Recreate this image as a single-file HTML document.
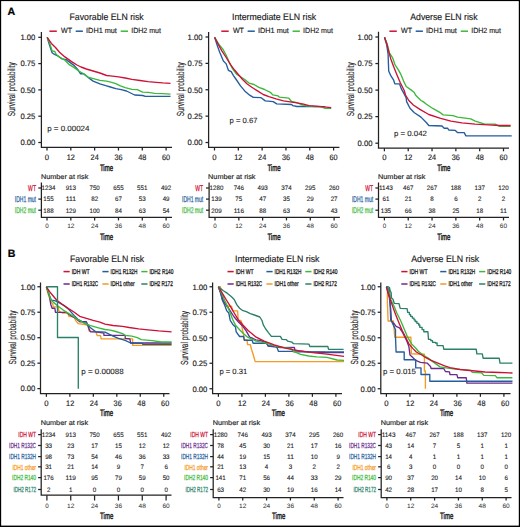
<!DOCTYPE html>
<html><head><meta charset="utf-8"><style>
html,body{margin:0;padding:0;background:#fff;}
svg{display:block;font-family:"Liberation Sans",sans-serif;text-rendering:geometricPrecision;}
</style></head><body>
<svg width="520" height="527" viewBox="0 0 520 527">
<rect x="0" y="0" width="520" height="527" fill="#fff"/>
<text x="7.50" y="15.20" font-size="10.6" fill="#000" stroke="#000" stroke-width="0.2" font-weight="bold">A</text>
<text x="7.70" y="257.00" font-size="10.6" fill="#000" stroke="#000" stroke-width="0.2" font-weight="bold">B</text>
<text x="106.60" y="20.45" font-size="9.4" fill="#1a1a1a" stroke="#1a1a1a" stroke-width="0.15" text-anchor="middle" textLength="74.2" lengthAdjust="spacingAndGlyphs">Favorable ELN risk</text>
<line x1="49.40" y1="31.20" x2="56.80" y2="31.20" stroke="#cc1236" stroke-width="1.5"/>
<text x="61.00" y="33.30" font-size="7.5" fill="#1a1a1a" stroke="#1a1a1a" stroke-width="0.15" textLength="11.1" lengthAdjust="spacingAndGlyphs">WT</text>
<line x1="75.70" y1="31.20" x2="82.90" y2="31.20" stroke="#235d9c" stroke-width="1.5"/>
<text x="86.10" y="33.30" font-size="7.5" fill="#1a1a1a" stroke="#1a1a1a" stroke-width="0.15" textLength="30.8" lengthAdjust="spacingAndGlyphs">IDH1 mut</text>
<line x1="120.70" y1="31.20" x2="128.00" y2="31.20" stroke="#3cb93c" stroke-width="1.5"/>
<text x="131.20" y="33.30" font-size="7.5" fill="#1a1a1a" stroke="#1a1a1a" stroke-width="0.15" textLength="29.8" lengthAdjust="spacingAndGlyphs">IDH2 mut</text>
<polyline points="41.40,32.00 41.40,147.40 172.00,147.40" fill="none" stroke="#222" stroke-width="1.25" stroke-linejoin="miter"/>
<line x1="38.30" y1="37.30" x2="41.40" y2="37.30" stroke="#222" stroke-width="1.25"/>
<text x="35.40" y="40.10" font-size="7.8" fill="#1a1a1a" stroke="#1a1a1a" stroke-width="0.15" text-anchor="end" textLength="15.0" lengthAdjust="spacingAndGlyphs">1.00</text>
<line x1="38.30" y1="63.60" x2="41.40" y2="63.60" stroke="#222" stroke-width="1.25"/>
<text x="35.40" y="66.40" font-size="7.8" fill="#1a1a1a" stroke="#1a1a1a" stroke-width="0.15" text-anchor="end" textLength="15.0" lengthAdjust="spacingAndGlyphs">0.75</text>
<line x1="38.30" y1="89.90" x2="41.40" y2="89.90" stroke="#222" stroke-width="1.25"/>
<text x="35.40" y="92.70" font-size="7.8" fill="#1a1a1a" stroke="#1a1a1a" stroke-width="0.15" text-anchor="end" textLength="15.0" lengthAdjust="spacingAndGlyphs">0.50</text>
<line x1="38.30" y1="116.20" x2="41.40" y2="116.20" stroke="#222" stroke-width="1.25"/>
<text x="35.40" y="119.00" font-size="7.8" fill="#1a1a1a" stroke="#1a1a1a" stroke-width="0.15" text-anchor="end" textLength="15.0" lengthAdjust="spacingAndGlyphs">0.25</text>
<line x1="38.30" y1="142.50" x2="41.40" y2="142.50" stroke="#222" stroke-width="1.25"/>
<text x="35.40" y="145.30" font-size="7.8" fill="#1a1a1a" stroke="#1a1a1a" stroke-width="0.15" text-anchor="end" textLength="15.0" lengthAdjust="spacingAndGlyphs">0.00</text>
<line x1="47.00" y1="147.40" x2="47.00" y2="150.50" stroke="#222" stroke-width="1.25"/>
<text x="47.00" y="159.70" font-size="7.9" fill="#1a1a1a" stroke="#1a1a1a" stroke-width="0.15" text-anchor="middle" textLength="4.3" lengthAdjust="spacingAndGlyphs">0</text>
<line x1="70.82" y1="147.40" x2="70.82" y2="150.50" stroke="#222" stroke-width="1.25"/>
<text x="70.82" y="159.70" font-size="7.9" fill="#1a1a1a" stroke="#1a1a1a" stroke-width="0.15" text-anchor="middle" textLength="8.1" lengthAdjust="spacingAndGlyphs">12</text>
<line x1="94.64" y1="147.40" x2="94.64" y2="150.50" stroke="#222" stroke-width="1.25"/>
<text x="94.64" y="159.70" font-size="7.9" fill="#1a1a1a" stroke="#1a1a1a" stroke-width="0.15" text-anchor="middle" textLength="8.1" lengthAdjust="spacingAndGlyphs">24</text>
<line x1="118.46" y1="147.40" x2="118.46" y2="150.50" stroke="#222" stroke-width="1.25"/>
<text x="118.46" y="159.70" font-size="7.9" fill="#1a1a1a" stroke="#1a1a1a" stroke-width="0.15" text-anchor="middle" textLength="8.1" lengthAdjust="spacingAndGlyphs">36</text>
<line x1="142.28" y1="147.40" x2="142.28" y2="150.50" stroke="#222" stroke-width="1.25"/>
<text x="142.28" y="159.70" font-size="7.9" fill="#1a1a1a" stroke="#1a1a1a" stroke-width="0.15" text-anchor="middle" textLength="8.1" lengthAdjust="spacingAndGlyphs">48</text>
<line x1="166.10" y1="147.40" x2="166.10" y2="150.50" stroke="#222" stroke-width="1.25"/>
<text x="166.10" y="159.70" font-size="7.9" fill="#1a1a1a" stroke="#1a1a1a" stroke-width="0.15" text-anchor="middle" textLength="8.1" lengthAdjust="spacingAndGlyphs">60</text>
<text x="106.50" y="170.80" font-size="9.2" fill="#1a1a1a" stroke="#1a1a1a" stroke-width="0.45" text-anchor="middle" textLength="13.2" lengthAdjust="spacingAndGlyphs">Time</text>
<text x="0.00" y="0.00" font-size="10.4" fill="#1a1a1a" stroke="#1a1a1a" stroke-width="0.12" text-anchor="middle" textLength="54" lengthAdjust="spacingAndGlyphs" transform="translate(14.60,89.20) rotate(-90)">Survival probability</text>
<text x="47.20" y="131.00" font-size="7.6" fill="#1a1a1a" stroke="#1a1a1a" stroke-width="0.1" textLength="42.2" lengthAdjust="spacingAndGlyphs">p = 0.00024</text>
<polyline points="47.20,37.30 49.40,44.80 52.10,52.80 54.10,54.20 58.20,56.20 62.20,58.90 66.20,59.60 68.90,61.60 74.30,65.60 78.30,70.30 80.40,73.70 83.70,73.70 87.80,77.10 93.10,81.10 99.90,83.80 106.60,85.80 110.40,87.00 115.80,88.60 121.20,89.70 126.50,91.00 130.60,93.00 134.60,95.00 142.70,95.50 145.40,96.40 170.50,96.40" fill="none" stroke="#235d9c" stroke-width="1.35" stroke-linejoin="round"/>
<polyline points="47.20,37.30 50.00,44.10 52.10,50.80 54.80,51.50 56.10,54.20 60.80,58.20 64.90,60.20 68.90,64.30 74.30,67.60 79.70,71.70 82.40,73.00 87.80,77.10 92.50,78.40 99.90,80.40 106.60,81.10 111.70,82.30 115.80,83.60 119.80,85.60 125.20,87.60 131.90,89.30 137.30,89.70 142.70,92.10 148.10,92.40 154.80,93.30 162.90,93.70 170.50,94.10" fill="none" stroke="#3cb93c" stroke-width="1.35" stroke-linejoin="round"/>
<polyline points="47.20,37.30 51.40,43.40 55.50,47.50 59.50,52.20 64.90,56.90 71.60,61.60 77.00,65.00 81.00,67.00 86.40,69.00 93.10,71.00 99.90,73.00 106.60,75.50 110.40,75.80 118.50,76.90 125.20,78.00 131.90,79.30 140.00,80.50 148.10,81.60 156.10,82.30 162.90,82.90 170.50,83.30" fill="none" stroke="#cc1236" stroke-width="1.35" stroke-linejoin="round"/>
<text x="40.90" y="178.50" font-size="6.9" fill="#1a1a1a" stroke="#1a1a1a" stroke-width="0.15" textLength="47.4" lengthAdjust="spacingAndGlyphs">Number at risk</text>
<polyline points="41.40,182.40 41.40,217.40 172.00,217.40" fill="none" stroke="#222" stroke-width="1.25" stroke-linejoin="miter"/>
<line x1="38.30" y1="188.00" x2="41.40" y2="188.00" stroke="#222" stroke-width="1.25"/>
<text x="36.00" y="190.70" font-size="8.4" fill="#cc1236" stroke="#cc1236" stroke-width="0.25" text-anchor="end" textLength="7.9" lengthAdjust="spacingAndGlyphs">WT</text>
<text x="48.50" y="190.30" font-size="6.4" fill="#1a1a1a" stroke="#1a1a1a" stroke-width="0.1" text-anchor="middle" textLength="13.8" lengthAdjust="spacingAndGlyphs">1234</text>
<text x="70.82" y="190.30" font-size="6.4" fill="#1a1a1a" stroke="#1a1a1a" stroke-width="0.1" text-anchor="middle" textLength="10.350000000000001" lengthAdjust="spacingAndGlyphs">913</text>
<text x="94.64" y="190.30" font-size="6.4" fill="#1a1a1a" stroke="#1a1a1a" stroke-width="0.1" text-anchor="middle" textLength="10.350000000000001" lengthAdjust="spacingAndGlyphs">750</text>
<text x="118.46" y="190.30" font-size="6.4" fill="#1a1a1a" stroke="#1a1a1a" stroke-width="0.1" text-anchor="middle" textLength="10.350000000000001" lengthAdjust="spacingAndGlyphs">655</text>
<text x="142.28" y="190.30" font-size="6.4" fill="#1a1a1a" stroke="#1a1a1a" stroke-width="0.1" text-anchor="middle" textLength="10.350000000000001" lengthAdjust="spacingAndGlyphs">551</text>
<text x="166.10" y="190.30" font-size="6.4" fill="#1a1a1a" stroke="#1a1a1a" stroke-width="0.1" text-anchor="middle" textLength="10.350000000000001" lengthAdjust="spacingAndGlyphs">492</text>
<line x1="38.30" y1="199.10" x2="41.40" y2="199.10" stroke="#222" stroke-width="1.25"/>
<text x="36.00" y="201.80" font-size="8.4" fill="#235d9c" stroke="#235d9c" stroke-width="0.25" text-anchor="end" textLength="21.2" lengthAdjust="spacingAndGlyphs">IDH1 mut</text>
<text x="48.50" y="201.40" font-size="6.4" fill="#1a1a1a" stroke="#1a1a1a" stroke-width="0.1" text-anchor="middle" textLength="10.350000000000001" lengthAdjust="spacingAndGlyphs">155</text>
<text x="70.82" y="201.40" font-size="6.4" fill="#1a1a1a" stroke="#1a1a1a" stroke-width="0.1" text-anchor="middle" textLength="10.350000000000001" lengthAdjust="spacingAndGlyphs">111</text>
<text x="94.64" y="201.40" font-size="6.4" fill="#1a1a1a" stroke="#1a1a1a" stroke-width="0.1" text-anchor="middle" textLength="6.9" lengthAdjust="spacingAndGlyphs">82</text>
<text x="118.46" y="201.40" font-size="6.4" fill="#1a1a1a" stroke="#1a1a1a" stroke-width="0.1" text-anchor="middle" textLength="6.9" lengthAdjust="spacingAndGlyphs">67</text>
<text x="142.28" y="201.40" font-size="6.4" fill="#1a1a1a" stroke="#1a1a1a" stroke-width="0.1" text-anchor="middle" textLength="6.9" lengthAdjust="spacingAndGlyphs">53</text>
<text x="166.10" y="201.40" font-size="6.4" fill="#1a1a1a" stroke="#1a1a1a" stroke-width="0.1" text-anchor="middle" textLength="6.9" lengthAdjust="spacingAndGlyphs">49</text>
<line x1="38.30" y1="210.20" x2="41.40" y2="210.20" stroke="#222" stroke-width="1.25"/>
<text x="36.00" y="212.90" font-size="8.4" fill="#3cb93c" stroke="#3cb93c" stroke-width="0.25" text-anchor="end" textLength="21.2" lengthAdjust="spacingAndGlyphs">IDH2 mut</text>
<text x="48.50" y="212.50" font-size="6.4" fill="#1a1a1a" stroke="#1a1a1a" stroke-width="0.1" text-anchor="middle" textLength="10.350000000000001" lengthAdjust="spacingAndGlyphs">188</text>
<text x="70.82" y="212.50" font-size="6.4" fill="#1a1a1a" stroke="#1a1a1a" stroke-width="0.1" text-anchor="middle" textLength="10.350000000000001" lengthAdjust="spacingAndGlyphs">129</text>
<text x="94.64" y="212.50" font-size="6.4" fill="#1a1a1a" stroke="#1a1a1a" stroke-width="0.1" text-anchor="middle" textLength="10.350000000000001" lengthAdjust="spacingAndGlyphs">100</text>
<text x="118.46" y="212.50" font-size="6.4" fill="#1a1a1a" stroke="#1a1a1a" stroke-width="0.1" text-anchor="middle" textLength="6.9" lengthAdjust="spacingAndGlyphs">84</text>
<text x="142.28" y="212.50" font-size="6.4" fill="#1a1a1a" stroke="#1a1a1a" stroke-width="0.1" text-anchor="middle" textLength="6.9" lengthAdjust="spacingAndGlyphs">63</text>
<text x="166.10" y="212.50" font-size="6.4" fill="#1a1a1a" stroke="#1a1a1a" stroke-width="0.1" text-anchor="middle" textLength="6.9" lengthAdjust="spacingAndGlyphs">54</text>
<line x1="47.00" y1="217.40" x2="47.00" y2="220.40" stroke="#222" stroke-width="1.25"/>
<text x="47.00" y="228.00" font-size="6.3" fill="#2a2a2a" stroke="#2a2a2a" stroke-width="0" text-anchor="middle" textLength="3.5" lengthAdjust="spacingAndGlyphs">0</text>
<line x1="70.82" y1="217.40" x2="70.82" y2="220.40" stroke="#222" stroke-width="1.25"/>
<text x="70.82" y="228.00" font-size="6.3" fill="#2a2a2a" stroke="#2a2a2a" stroke-width="0" text-anchor="middle" textLength="7.3" lengthAdjust="spacingAndGlyphs">12</text>
<line x1="94.64" y1="217.40" x2="94.64" y2="220.40" stroke="#222" stroke-width="1.25"/>
<text x="94.64" y="228.00" font-size="6.3" fill="#2a2a2a" stroke="#2a2a2a" stroke-width="0" text-anchor="middle" textLength="7.3" lengthAdjust="spacingAndGlyphs">24</text>
<line x1="118.46" y1="217.40" x2="118.46" y2="220.40" stroke="#222" stroke-width="1.25"/>
<text x="118.46" y="228.00" font-size="6.3" fill="#2a2a2a" stroke="#2a2a2a" stroke-width="0" text-anchor="middle" textLength="7.3" lengthAdjust="spacingAndGlyphs">36</text>
<line x1="142.28" y1="217.40" x2="142.28" y2="220.40" stroke="#222" stroke-width="1.25"/>
<text x="142.28" y="228.00" font-size="6.3" fill="#2a2a2a" stroke="#2a2a2a" stroke-width="0" text-anchor="middle" textLength="7.3" lengthAdjust="spacingAndGlyphs">48</text>
<line x1="166.10" y1="217.40" x2="166.10" y2="220.40" stroke="#222" stroke-width="1.25"/>
<text x="166.10" y="228.00" font-size="6.3" fill="#2a2a2a" stroke="#2a2a2a" stroke-width="0" text-anchor="middle" textLength="7.3" lengthAdjust="spacingAndGlyphs">60</text>
<text x="106.50" y="239.80" font-size="9.2" fill="#1a1a1a" stroke="#1a1a1a" stroke-width="0.45" text-anchor="middle" textLength="13.2" lengthAdjust="spacingAndGlyphs">Time</text>
<text x="274.10" y="20.45" font-size="9.4" fill="#1a1a1a" stroke="#1a1a1a" stroke-width="0.15" text-anchor="middle" textLength="84.2" lengthAdjust="spacingAndGlyphs">Intermediate ELN risk</text>
<line x1="221.30" y1="31.20" x2="228.70" y2="31.20" stroke="#cc1236" stroke-width="1.5"/>
<text x="232.90" y="33.30" font-size="7.5" fill="#1a1a1a" stroke="#1a1a1a" stroke-width="0.15" textLength="11.1" lengthAdjust="spacingAndGlyphs">WT</text>
<line x1="247.60" y1="31.20" x2="254.80" y2="31.20" stroke="#235d9c" stroke-width="1.5"/>
<text x="258.00" y="33.30" font-size="7.5" fill="#1a1a1a" stroke="#1a1a1a" stroke-width="0.15" textLength="30.8" lengthAdjust="spacingAndGlyphs">IDH1 mut</text>
<line x1="292.60" y1="31.20" x2="299.90" y2="31.20" stroke="#3cb93c" stroke-width="1.5"/>
<text x="303.10" y="33.30" font-size="7.5" fill="#1a1a1a" stroke="#1a1a1a" stroke-width="0.15" textLength="29.8" lengthAdjust="spacingAndGlyphs">IDH2 mut</text>
<polyline points="208.60,32.00 208.60,147.40 339.40,147.40" fill="none" stroke="#222" stroke-width="1.25" stroke-linejoin="miter"/>
<line x1="205.50" y1="37.00" x2="208.60" y2="37.00" stroke="#222" stroke-width="1.25"/>
<text x="202.60" y="39.80" font-size="7.8" fill="#1a1a1a" stroke="#1a1a1a" stroke-width="0.15" text-anchor="end" textLength="15.0" lengthAdjust="spacingAndGlyphs">1.00</text>
<line x1="205.50" y1="63.38" x2="208.60" y2="63.38" stroke="#222" stroke-width="1.25"/>
<text x="202.60" y="66.18" font-size="7.8" fill="#1a1a1a" stroke="#1a1a1a" stroke-width="0.15" text-anchor="end" textLength="15.0" lengthAdjust="spacingAndGlyphs">0.75</text>
<line x1="205.50" y1="89.76" x2="208.60" y2="89.76" stroke="#222" stroke-width="1.25"/>
<text x="202.60" y="92.56" font-size="7.8" fill="#1a1a1a" stroke="#1a1a1a" stroke-width="0.15" text-anchor="end" textLength="15.0" lengthAdjust="spacingAndGlyphs">0.50</text>
<line x1="205.50" y1="116.14" x2="208.60" y2="116.14" stroke="#222" stroke-width="1.25"/>
<text x="202.60" y="118.94" font-size="7.8" fill="#1a1a1a" stroke="#1a1a1a" stroke-width="0.15" text-anchor="end" textLength="15.0" lengthAdjust="spacingAndGlyphs">0.25</text>
<line x1="205.50" y1="142.52" x2="208.60" y2="142.52" stroke="#222" stroke-width="1.25"/>
<text x="202.60" y="145.32" font-size="7.8" fill="#1a1a1a" stroke="#1a1a1a" stroke-width="0.15" text-anchor="end" textLength="15.0" lengthAdjust="spacingAndGlyphs">0.00</text>
<line x1="214.50" y1="147.40" x2="214.50" y2="150.50" stroke="#222" stroke-width="1.25"/>
<text x="214.50" y="159.70" font-size="7.9" fill="#1a1a1a" stroke="#1a1a1a" stroke-width="0.15" text-anchor="middle" textLength="4.3" lengthAdjust="spacingAndGlyphs">0</text>
<line x1="238.32" y1="147.40" x2="238.32" y2="150.50" stroke="#222" stroke-width="1.25"/>
<text x="238.32" y="159.70" font-size="7.9" fill="#1a1a1a" stroke="#1a1a1a" stroke-width="0.15" text-anchor="middle" textLength="8.1" lengthAdjust="spacingAndGlyphs">12</text>
<line x1="262.14" y1="147.40" x2="262.14" y2="150.50" stroke="#222" stroke-width="1.25"/>
<text x="262.14" y="159.70" font-size="7.9" fill="#1a1a1a" stroke="#1a1a1a" stroke-width="0.15" text-anchor="middle" textLength="8.1" lengthAdjust="spacingAndGlyphs">24</text>
<line x1="285.96" y1="147.40" x2="285.96" y2="150.50" stroke="#222" stroke-width="1.25"/>
<text x="285.96" y="159.70" font-size="7.9" fill="#1a1a1a" stroke="#1a1a1a" stroke-width="0.15" text-anchor="middle" textLength="8.1" lengthAdjust="spacingAndGlyphs">36</text>
<line x1="309.78" y1="147.40" x2="309.78" y2="150.50" stroke="#222" stroke-width="1.25"/>
<text x="309.78" y="159.70" font-size="7.9" fill="#1a1a1a" stroke="#1a1a1a" stroke-width="0.15" text-anchor="middle" textLength="8.1" lengthAdjust="spacingAndGlyphs">48</text>
<line x1="333.60" y1="147.40" x2="333.60" y2="150.50" stroke="#222" stroke-width="1.25"/>
<text x="333.60" y="159.70" font-size="7.9" fill="#1a1a1a" stroke="#1a1a1a" stroke-width="0.15" text-anchor="middle" textLength="8.1" lengthAdjust="spacingAndGlyphs">60</text>
<text x="274.00" y="170.80" font-size="9.2" fill="#1a1a1a" stroke="#1a1a1a" stroke-width="0.45" text-anchor="middle" textLength="13.2" lengthAdjust="spacingAndGlyphs">Time</text>
<text x="0.00" y="0.00" font-size="10.4" fill="#1a1a1a" stroke="#1a1a1a" stroke-width="0.12" text-anchor="middle" textLength="54" lengthAdjust="spacingAndGlyphs" transform="translate(183.70,89.20) rotate(-90)">Survival probability</text>
<text x="229.60" y="123.20" font-size="7.6" fill="#1a1a1a" stroke="#1a1a1a" stroke-width="0.1" textLength="27.9" lengthAdjust="spacingAndGlyphs">p = 0.67</text>
<polyline points="214.60,37.30 217.70,46.80 219.80,52.50 223.40,61.00 226.20,63.90 228.40,70.30 231.20,71.70 233.30,75.30 236.20,79.50 240.50,85.90 244.70,90.90 249.70,95.20 253.30,97.30 261.10,97.70 265.30,100.90 273.20,101.60 276.70,103.90 291.50,104.50 292.90,105.60 296.90,106.50 309.00,106.50 325.20,106.60" fill="none" stroke="#235d9c" stroke-width="1.35" stroke-linejoin="round"/>
<polyline points="214.60,37.30 219.10,44.70 222.70,48.90 226.20,55.30 229.10,61.70 232.60,68.90 236.90,74.50 240.50,76.70 244.70,79.50 249.00,83.10 254.00,84.50 258.90,87.30 264.60,89.50 270.30,92.30 272.70,94.80 278.10,95.90 279.40,97.20 288.80,98.20 291.50,101.50 296.90,102.60 301.00,104.50 306.30,105.80 314.40,106.60 321.10,106.90 325.20,108.30 331.20,108.30" fill="none" stroke="#3cb93c" stroke-width="1.35" stroke-linejoin="round"/>
<polyline points="214.60,37.30 218.40,44.70 222.00,51.10 226.20,57.50 230.50,64.60 234.80,70.30 238.30,74.50 242.60,79.50 246.90,83.80 251.80,87.30 257.50,90.90 263.20,94.50 268.90,96.60 276.00,98.90 283.50,100.90 290.20,101.90 296.90,102.90 303.60,104.20 309.00,105.60 315.80,106.20 323.80,106.90 331.20,107.60" fill="none" stroke="#cc1236" stroke-width="1.35" stroke-linejoin="round"/>
<text x="208.10" y="178.50" font-size="6.9" fill="#1a1a1a" stroke="#1a1a1a" stroke-width="0.15" textLength="47.4" lengthAdjust="spacingAndGlyphs">Number at risk</text>
<polyline points="209.10,182.40 209.10,217.40 339.90,217.40" fill="none" stroke="#222" stroke-width="1.25" stroke-linejoin="miter"/>
<line x1="206.00" y1="188.00" x2="209.10" y2="188.00" stroke="#222" stroke-width="1.25"/>
<text x="203.20" y="190.70" font-size="8.4" fill="#cc1236" stroke="#cc1236" stroke-width="0.25" text-anchor="end" textLength="7.9" lengthAdjust="spacingAndGlyphs">WT</text>
<text x="216.50" y="190.30" font-size="6.4" fill="#1a1a1a" stroke="#1a1a1a" stroke-width="0.1" text-anchor="middle" textLength="13.8" lengthAdjust="spacingAndGlyphs">1280</text>
<text x="238.82" y="190.30" font-size="6.4" fill="#1a1a1a" stroke="#1a1a1a" stroke-width="0.1" text-anchor="middle" textLength="10.350000000000001" lengthAdjust="spacingAndGlyphs">746</text>
<text x="262.64" y="190.30" font-size="6.4" fill="#1a1a1a" stroke="#1a1a1a" stroke-width="0.1" text-anchor="middle" textLength="10.350000000000001" lengthAdjust="spacingAndGlyphs">493</text>
<text x="286.46" y="190.30" font-size="6.4" fill="#1a1a1a" stroke="#1a1a1a" stroke-width="0.1" text-anchor="middle" textLength="10.350000000000001" lengthAdjust="spacingAndGlyphs">374</text>
<text x="310.28" y="190.30" font-size="6.4" fill="#1a1a1a" stroke="#1a1a1a" stroke-width="0.1" text-anchor="middle" textLength="10.350000000000001" lengthAdjust="spacingAndGlyphs">295</text>
<text x="334.10" y="190.30" font-size="6.4" fill="#1a1a1a" stroke="#1a1a1a" stroke-width="0.1" text-anchor="middle" textLength="10.350000000000001" lengthAdjust="spacingAndGlyphs">260</text>
<line x1="206.00" y1="199.10" x2="209.10" y2="199.10" stroke="#222" stroke-width="1.25"/>
<text x="203.20" y="201.80" font-size="8.4" fill="#235d9c" stroke="#235d9c" stroke-width="0.25" text-anchor="end" textLength="21.2" lengthAdjust="spacingAndGlyphs">IDH1 mut</text>
<text x="216.50" y="201.40" font-size="6.4" fill="#1a1a1a" stroke="#1a1a1a" stroke-width="0.1" text-anchor="middle" textLength="10.350000000000001" lengthAdjust="spacingAndGlyphs">139</text>
<text x="238.82" y="201.40" font-size="6.4" fill="#1a1a1a" stroke="#1a1a1a" stroke-width="0.1" text-anchor="middle" textLength="6.9" lengthAdjust="spacingAndGlyphs">75</text>
<text x="262.64" y="201.40" font-size="6.4" fill="#1a1a1a" stroke="#1a1a1a" stroke-width="0.1" text-anchor="middle" textLength="6.9" lengthAdjust="spacingAndGlyphs">47</text>
<text x="286.46" y="201.40" font-size="6.4" fill="#1a1a1a" stroke="#1a1a1a" stroke-width="0.1" text-anchor="middle" textLength="6.9" lengthAdjust="spacingAndGlyphs">35</text>
<text x="310.28" y="201.40" font-size="6.4" fill="#1a1a1a" stroke="#1a1a1a" stroke-width="0.1" text-anchor="middle" textLength="6.9" lengthAdjust="spacingAndGlyphs">29</text>
<text x="334.10" y="201.40" font-size="6.4" fill="#1a1a1a" stroke="#1a1a1a" stroke-width="0.1" text-anchor="middle" textLength="6.9" lengthAdjust="spacingAndGlyphs">27</text>
<line x1="206.00" y1="210.20" x2="209.10" y2="210.20" stroke="#222" stroke-width="1.25"/>
<text x="203.20" y="212.90" font-size="8.4" fill="#3cb93c" stroke="#3cb93c" stroke-width="0.25" text-anchor="end" textLength="21.2" lengthAdjust="spacingAndGlyphs">IDH2 mut</text>
<text x="216.50" y="212.50" font-size="6.4" fill="#1a1a1a" stroke="#1a1a1a" stroke-width="0.1" text-anchor="middle" textLength="10.350000000000001" lengthAdjust="spacingAndGlyphs">209</text>
<text x="238.82" y="212.50" font-size="6.4" fill="#1a1a1a" stroke="#1a1a1a" stroke-width="0.1" text-anchor="middle" textLength="10.350000000000001" lengthAdjust="spacingAndGlyphs">116</text>
<text x="262.64" y="212.50" font-size="6.4" fill="#1a1a1a" stroke="#1a1a1a" stroke-width="0.1" text-anchor="middle" textLength="6.9" lengthAdjust="spacingAndGlyphs">88</text>
<text x="286.46" y="212.50" font-size="6.4" fill="#1a1a1a" stroke="#1a1a1a" stroke-width="0.1" text-anchor="middle" textLength="6.9" lengthAdjust="spacingAndGlyphs">63</text>
<text x="310.28" y="212.50" font-size="6.4" fill="#1a1a1a" stroke="#1a1a1a" stroke-width="0.1" text-anchor="middle" textLength="6.9" lengthAdjust="spacingAndGlyphs">49</text>
<text x="334.10" y="212.50" font-size="6.4" fill="#1a1a1a" stroke="#1a1a1a" stroke-width="0.1" text-anchor="middle" textLength="6.9" lengthAdjust="spacingAndGlyphs">43</text>
<line x1="215.00" y1="217.40" x2="215.00" y2="220.40" stroke="#222" stroke-width="1.25"/>
<text x="215.00" y="228.00" font-size="6.3" fill="#2a2a2a" stroke="#2a2a2a" stroke-width="0" text-anchor="middle" textLength="3.5" lengthAdjust="spacingAndGlyphs">0</text>
<line x1="238.82" y1="217.40" x2="238.82" y2="220.40" stroke="#222" stroke-width="1.25"/>
<text x="238.82" y="228.00" font-size="6.3" fill="#2a2a2a" stroke="#2a2a2a" stroke-width="0" text-anchor="middle" textLength="7.3" lengthAdjust="spacingAndGlyphs">12</text>
<line x1="262.64" y1="217.40" x2="262.64" y2="220.40" stroke="#222" stroke-width="1.25"/>
<text x="262.64" y="228.00" font-size="6.3" fill="#2a2a2a" stroke="#2a2a2a" stroke-width="0" text-anchor="middle" textLength="7.3" lengthAdjust="spacingAndGlyphs">24</text>
<line x1="286.46" y1="217.40" x2="286.46" y2="220.40" stroke="#222" stroke-width="1.25"/>
<text x="286.46" y="228.00" font-size="6.3" fill="#2a2a2a" stroke="#2a2a2a" stroke-width="0" text-anchor="middle" textLength="7.3" lengthAdjust="spacingAndGlyphs">36</text>
<line x1="310.28" y1="217.40" x2="310.28" y2="220.40" stroke="#222" stroke-width="1.25"/>
<text x="310.28" y="228.00" font-size="6.3" fill="#2a2a2a" stroke="#2a2a2a" stroke-width="0" text-anchor="middle" textLength="7.3" lengthAdjust="spacingAndGlyphs">48</text>
<line x1="334.10" y1="217.40" x2="334.10" y2="220.40" stroke="#222" stroke-width="1.25"/>
<text x="334.10" y="228.00" font-size="6.3" fill="#2a2a2a" stroke="#2a2a2a" stroke-width="0" text-anchor="middle" textLength="7.3" lengthAdjust="spacingAndGlyphs">60</text>
<text x="274.00" y="239.80" font-size="9.2" fill="#1a1a1a" stroke="#1a1a1a" stroke-width="0.45" text-anchor="middle" textLength="13.2" lengthAdjust="spacingAndGlyphs">Time</text>
<text x="443.90" y="20.45" font-size="9.4" fill="#1a1a1a" stroke="#1a1a1a" stroke-width="0.15" text-anchor="middle" textLength="67.3" lengthAdjust="spacingAndGlyphs">Adverse ELN risk</text>
<line x1="389.40" y1="31.20" x2="396.80" y2="31.20" stroke="#cc1236" stroke-width="1.5"/>
<text x="401.00" y="33.30" font-size="7.5" fill="#1a1a1a" stroke="#1a1a1a" stroke-width="0.15" textLength="11.1" lengthAdjust="spacingAndGlyphs">WT</text>
<line x1="415.70" y1="31.20" x2="422.90" y2="31.20" stroke="#235d9c" stroke-width="1.5"/>
<text x="426.10" y="33.30" font-size="7.5" fill="#1a1a1a" stroke="#1a1a1a" stroke-width="0.15" textLength="30.8" lengthAdjust="spacingAndGlyphs">IDH1 mut</text>
<line x1="460.70" y1="31.20" x2="468.00" y2="31.20" stroke="#3cb93c" stroke-width="1.5"/>
<text x="471.20" y="33.30" font-size="7.5" fill="#1a1a1a" stroke="#1a1a1a" stroke-width="0.15" textLength="29.8" lengthAdjust="spacingAndGlyphs">IDH2 mut</text>
<polyline points="378.50,31.80 378.50,148.20 509.00,148.20" fill="none" stroke="#222" stroke-width="1.25" stroke-linejoin="miter"/>
<line x1="375.40" y1="37.00" x2="378.50" y2="37.00" stroke="#222" stroke-width="1.25"/>
<text x="372.50" y="39.80" font-size="7.8" fill="#1a1a1a" stroke="#1a1a1a" stroke-width="0.15" text-anchor="end" textLength="15.0" lengthAdjust="spacingAndGlyphs">1.00</text>
<line x1="375.40" y1="63.55" x2="378.50" y2="63.55" stroke="#222" stroke-width="1.25"/>
<text x="372.50" y="66.35" font-size="7.8" fill="#1a1a1a" stroke="#1a1a1a" stroke-width="0.15" text-anchor="end" textLength="15.0" lengthAdjust="spacingAndGlyphs">0.75</text>
<line x1="375.40" y1="90.10" x2="378.50" y2="90.10" stroke="#222" stroke-width="1.25"/>
<text x="372.50" y="92.90" font-size="7.8" fill="#1a1a1a" stroke="#1a1a1a" stroke-width="0.15" text-anchor="end" textLength="15.0" lengthAdjust="spacingAndGlyphs">0.50</text>
<line x1="375.40" y1="116.65" x2="378.50" y2="116.65" stroke="#222" stroke-width="1.25"/>
<text x="372.50" y="119.45" font-size="7.8" fill="#1a1a1a" stroke="#1a1a1a" stroke-width="0.15" text-anchor="end" textLength="15.0" lengthAdjust="spacingAndGlyphs">0.25</text>
<line x1="375.40" y1="143.20" x2="378.50" y2="143.20" stroke="#222" stroke-width="1.25"/>
<text x="372.50" y="146.00" font-size="7.8" fill="#1a1a1a" stroke="#1a1a1a" stroke-width="0.15" text-anchor="end" textLength="15.0" lengthAdjust="spacingAndGlyphs">0.00</text>
<line x1="384.40" y1="148.20" x2="384.40" y2="151.30" stroke="#222" stroke-width="1.25"/>
<text x="384.40" y="160.30" font-size="7.9" fill="#1a1a1a" stroke="#1a1a1a" stroke-width="0.15" text-anchor="middle" textLength="4.3" lengthAdjust="spacingAndGlyphs">0</text>
<line x1="408.22" y1="148.20" x2="408.22" y2="151.30" stroke="#222" stroke-width="1.25"/>
<text x="408.22" y="160.30" font-size="7.9" fill="#1a1a1a" stroke="#1a1a1a" stroke-width="0.15" text-anchor="middle" textLength="8.1" lengthAdjust="spacingAndGlyphs">12</text>
<line x1="432.04" y1="148.20" x2="432.04" y2="151.30" stroke="#222" stroke-width="1.25"/>
<text x="432.04" y="160.30" font-size="7.9" fill="#1a1a1a" stroke="#1a1a1a" stroke-width="0.15" text-anchor="middle" textLength="8.1" lengthAdjust="spacingAndGlyphs">24</text>
<line x1="455.86" y1="148.20" x2="455.86" y2="151.30" stroke="#222" stroke-width="1.25"/>
<text x="455.86" y="160.30" font-size="7.9" fill="#1a1a1a" stroke="#1a1a1a" stroke-width="0.15" text-anchor="middle" textLength="8.1" lengthAdjust="spacingAndGlyphs">36</text>
<line x1="479.68" y1="148.20" x2="479.68" y2="151.30" stroke="#222" stroke-width="1.25"/>
<text x="479.68" y="160.30" font-size="7.9" fill="#1a1a1a" stroke="#1a1a1a" stroke-width="0.15" text-anchor="middle" textLength="8.1" lengthAdjust="spacingAndGlyphs">48</text>
<line x1="503.50" y1="148.20" x2="503.50" y2="151.30" stroke="#222" stroke-width="1.25"/>
<text x="503.50" y="160.30" font-size="7.9" fill="#1a1a1a" stroke="#1a1a1a" stroke-width="0.15" text-anchor="middle" textLength="8.1" lengthAdjust="spacingAndGlyphs">60</text>
<text x="443.80" y="171.30" font-size="9.2" fill="#1a1a1a" stroke="#1a1a1a" stroke-width="0.45" text-anchor="middle" textLength="13.2" lengthAdjust="spacingAndGlyphs">Time</text>
<text x="0.00" y="0.00" font-size="10.4" fill="#1a1a1a" stroke="#1a1a1a" stroke-width="0.12" text-anchor="middle" textLength="54" lengthAdjust="spacingAndGlyphs" transform="translate(353.90,89.20) rotate(-90)">Survival probability</text>
<text x="393.90" y="136.20" font-size="7.6" fill="#1a1a1a" stroke="#1a1a1a" stroke-width="0.1" textLength="33.0" lengthAdjust="spacingAndGlyphs">p = 0.042</text>
<polyline points="384.50,37.30 386.70,44.80 388.10,54.20 388.70,71.00 390.80,75.70 393.50,79.80 394.80,83.80 399.50,83.80 401.50,89.20 404.20,93.90 406.20,97.90 406.60,101.60 410.00,108.30 414.40,112.70 421.00,117.10 426.50,122.70 428.80,125.50 442.00,126.00 444.20,128.20 447.60,128.20 448.70,130.00 455.30,130.40 457.50,132.60 464.20,132.60 465.90,135.90 511.70,135.90" fill="none" stroke="#235d9c" stroke-width="1.35" stroke-linejoin="round"/>
<polyline points="384.50,37.30 387.40,44.80 389.40,52.80 392.80,58.20 394.80,64.30 398.20,69.70 400.90,74.40 403.60,81.10 406.20,86.50 411.00,89.90 414.30,92.50 415.50,95.00 417.70,97.30 421.00,100.50 423.10,101.60 426.50,104.30 433.20,108.70 439.80,112.30 443.10,114.90 453.10,115.60 457.50,117.10 470.80,118.90 475.20,121.10 484.10,123.80 495.10,124.20 499.60,126.40 510.60,126.40" fill="none" stroke="#3cb93c" stroke-width="1.35" stroke-linejoin="round"/>
<polyline points="384.50,37.30 386.70,43.40 388.70,51.50 390.80,58.90 393.50,66.30 396.80,74.40 400.20,82.50 404.20,90.50 405.50,95.00 408.80,100.50 413.30,105.00 419.90,109.40 428.80,114.50 439.80,118.20 450.90,121.10 461.90,122.90 475.20,124.20 488.50,124.90 499.60,125.50 510.60,125.50" fill="none" stroke="#cc1236" stroke-width="1.35" stroke-linejoin="round"/>
<text x="378.00" y="178.50" font-size="6.9" fill="#1a1a1a" stroke="#1a1a1a" stroke-width="0.15" textLength="47.4" lengthAdjust="spacingAndGlyphs">Number at risk</text>
<polyline points="378.50,182.40 378.50,217.40 509.00,217.40" fill="none" stroke="#222" stroke-width="1.25" stroke-linejoin="miter"/>
<line x1="375.40" y1="188.00" x2="378.50" y2="188.00" stroke="#222" stroke-width="1.25"/>
<text x="373.10" y="190.70" font-size="8.4" fill="#cc1236" stroke="#cc1236" stroke-width="0.25" text-anchor="end" textLength="7.9" lengthAdjust="spacingAndGlyphs">WT</text>
<text x="385.90" y="190.30" font-size="6.4" fill="#1a1a1a" stroke="#1a1a1a" stroke-width="0.1" text-anchor="middle" textLength="13.8" lengthAdjust="spacingAndGlyphs">1143</text>
<text x="408.22" y="190.30" font-size="6.4" fill="#1a1a1a" stroke="#1a1a1a" stroke-width="0.1" text-anchor="middle" textLength="10.350000000000001" lengthAdjust="spacingAndGlyphs">467</text>
<text x="432.04" y="190.30" font-size="6.4" fill="#1a1a1a" stroke="#1a1a1a" stroke-width="0.1" text-anchor="middle" textLength="10.350000000000001" lengthAdjust="spacingAndGlyphs">267</text>
<text x="455.86" y="190.30" font-size="6.4" fill="#1a1a1a" stroke="#1a1a1a" stroke-width="0.1" text-anchor="middle" textLength="10.350000000000001" lengthAdjust="spacingAndGlyphs">188</text>
<text x="479.68" y="190.30" font-size="6.4" fill="#1a1a1a" stroke="#1a1a1a" stroke-width="0.1" text-anchor="middle" textLength="10.350000000000001" lengthAdjust="spacingAndGlyphs">137</text>
<text x="503.50" y="190.30" font-size="6.4" fill="#1a1a1a" stroke="#1a1a1a" stroke-width="0.1" text-anchor="middle" textLength="10.350000000000001" lengthAdjust="spacingAndGlyphs">120</text>
<line x1="375.40" y1="199.10" x2="378.50" y2="199.10" stroke="#222" stroke-width="1.25"/>
<text x="373.10" y="201.80" font-size="8.4" fill="#235d9c" stroke="#235d9c" stroke-width="0.25" text-anchor="end" textLength="21.2" lengthAdjust="spacingAndGlyphs">IDH1 mut</text>
<text x="385.90" y="201.40" font-size="6.4" fill="#1a1a1a" stroke="#1a1a1a" stroke-width="0.1" text-anchor="middle" textLength="6.9" lengthAdjust="spacingAndGlyphs">61</text>
<text x="408.22" y="201.40" font-size="6.4" fill="#1a1a1a" stroke="#1a1a1a" stroke-width="0.1" text-anchor="middle" textLength="6.9" lengthAdjust="spacingAndGlyphs">21</text>
<text x="432.04" y="201.40" font-size="6.4" fill="#1a1a1a" stroke="#1a1a1a" stroke-width="0.1" text-anchor="middle" textLength="3.45" lengthAdjust="spacingAndGlyphs">8</text>
<text x="455.86" y="201.40" font-size="6.4" fill="#1a1a1a" stroke="#1a1a1a" stroke-width="0.1" text-anchor="middle" textLength="3.45" lengthAdjust="spacingAndGlyphs">6</text>
<text x="479.68" y="201.40" font-size="6.4" fill="#1a1a1a" stroke="#1a1a1a" stroke-width="0.1" text-anchor="middle" textLength="3.45" lengthAdjust="spacingAndGlyphs">2</text>
<text x="503.50" y="201.40" font-size="6.4" fill="#1a1a1a" stroke="#1a1a1a" stroke-width="0.1" text-anchor="middle" textLength="3.45" lengthAdjust="spacingAndGlyphs">2</text>
<line x1="375.40" y1="210.20" x2="378.50" y2="210.20" stroke="#222" stroke-width="1.25"/>
<text x="373.10" y="212.90" font-size="8.4" fill="#3cb93c" stroke="#3cb93c" stroke-width="0.25" text-anchor="end" textLength="21.2" lengthAdjust="spacingAndGlyphs">IDH2 mut</text>
<text x="385.90" y="212.50" font-size="6.4" fill="#1a1a1a" stroke="#1a1a1a" stroke-width="0.1" text-anchor="middle" textLength="10.350000000000001" lengthAdjust="spacingAndGlyphs">135</text>
<text x="408.22" y="212.50" font-size="6.4" fill="#1a1a1a" stroke="#1a1a1a" stroke-width="0.1" text-anchor="middle" textLength="6.9" lengthAdjust="spacingAndGlyphs">66</text>
<text x="432.04" y="212.50" font-size="6.4" fill="#1a1a1a" stroke="#1a1a1a" stroke-width="0.1" text-anchor="middle" textLength="6.9" lengthAdjust="spacingAndGlyphs">38</text>
<text x="455.86" y="212.50" font-size="6.4" fill="#1a1a1a" stroke="#1a1a1a" stroke-width="0.1" text-anchor="middle" textLength="6.9" lengthAdjust="spacingAndGlyphs">25</text>
<text x="479.68" y="212.50" font-size="6.4" fill="#1a1a1a" stroke="#1a1a1a" stroke-width="0.1" text-anchor="middle" textLength="6.9" lengthAdjust="spacingAndGlyphs">18</text>
<text x="503.50" y="212.50" font-size="6.4" fill="#1a1a1a" stroke="#1a1a1a" stroke-width="0.1" text-anchor="middle" textLength="6.9" lengthAdjust="spacingAndGlyphs">11</text>
<line x1="384.40" y1="217.40" x2="384.40" y2="220.40" stroke="#222" stroke-width="1.25"/>
<text x="384.40" y="228.00" font-size="6.3" fill="#2a2a2a" stroke="#2a2a2a" stroke-width="0" text-anchor="middle" textLength="3.5" lengthAdjust="spacingAndGlyphs">0</text>
<line x1="408.22" y1="217.40" x2="408.22" y2="220.40" stroke="#222" stroke-width="1.25"/>
<text x="408.22" y="228.00" font-size="6.3" fill="#2a2a2a" stroke="#2a2a2a" stroke-width="0" text-anchor="middle" textLength="7.3" lengthAdjust="spacingAndGlyphs">12</text>
<line x1="432.04" y1="217.40" x2="432.04" y2="220.40" stroke="#222" stroke-width="1.25"/>
<text x="432.04" y="228.00" font-size="6.3" fill="#2a2a2a" stroke="#2a2a2a" stroke-width="0" text-anchor="middle" textLength="7.3" lengthAdjust="spacingAndGlyphs">24</text>
<line x1="455.86" y1="217.40" x2="455.86" y2="220.40" stroke="#222" stroke-width="1.25"/>
<text x="455.86" y="228.00" font-size="6.3" fill="#2a2a2a" stroke="#2a2a2a" stroke-width="0" text-anchor="middle" textLength="7.3" lengthAdjust="spacingAndGlyphs">36</text>
<line x1="479.68" y1="217.40" x2="479.68" y2="220.40" stroke="#222" stroke-width="1.25"/>
<text x="479.68" y="228.00" font-size="6.3" fill="#2a2a2a" stroke="#2a2a2a" stroke-width="0" text-anchor="middle" textLength="7.3" lengthAdjust="spacingAndGlyphs">48</text>
<line x1="503.50" y1="217.40" x2="503.50" y2="220.40" stroke="#222" stroke-width="1.25"/>
<text x="503.50" y="228.00" font-size="6.3" fill="#2a2a2a" stroke="#2a2a2a" stroke-width="0" text-anchor="middle" textLength="7.3" lengthAdjust="spacingAndGlyphs">60</text>
<text x="443.80" y="239.80" font-size="9.2" fill="#1a1a1a" stroke="#1a1a1a" stroke-width="0.45" text-anchor="middle" textLength="13.2" lengthAdjust="spacingAndGlyphs">Time</text>
<text x="107.10" y="262.20" font-size="9.4" fill="#1a1a1a" stroke="#1a1a1a" stroke-width="0.15" text-anchor="middle" textLength="74.2" lengthAdjust="spacingAndGlyphs">Favorable ELN risk</text>
<line x1="63.50" y1="271.60" x2="69.70" y2="271.60" stroke="#cc1236" stroke-width="1.5"/>
<text x="71.70" y="274.00" font-size="7.0" fill="#1a1a1a" stroke="#1a1a1a" stroke-width="0.3" textLength="18" lengthAdjust="spacingAndGlyphs">IDH WT</text>
<line x1="102.40" y1="271.60" x2="108.60" y2="271.60" stroke="#235d9c" stroke-width="1.5"/>
<text x="110.60" y="274.00" font-size="7.0" fill="#1a1a1a" stroke="#1a1a1a" stroke-width="0.3" textLength="26.8" lengthAdjust="spacingAndGlyphs">IDH1 R132H</text>
<line x1="141.30" y1="271.60" x2="147.50" y2="271.60" stroke="#3cb93c" stroke-width="1.5"/>
<text x="149.50" y="274.00" font-size="7.0" fill="#1a1a1a" stroke="#1a1a1a" stroke-width="0.3" textLength="24" lengthAdjust="spacingAndGlyphs">IDH2 R140</text>
<line x1="63.50" y1="284.00" x2="69.70" y2="284.00" stroke="#6a2b8c" stroke-width="1.5"/>
<text x="71.70" y="286.40" font-size="7.0" fill="#1a1a1a" stroke="#1a1a1a" stroke-width="0.3" textLength="26.5" lengthAdjust="spacingAndGlyphs">IDH1 R132C</text>
<line x1="102.40" y1="284.00" x2="108.60" y2="284.00" stroke="#f59a22" stroke-width="1.5"/>
<text x="110.60" y="286.40" font-size="7.0" fill="#1a1a1a" stroke="#1a1a1a" stroke-width="0.3" textLength="24" lengthAdjust="spacingAndGlyphs">IDH1 other</text>
<line x1="141.30" y1="284.00" x2="147.50" y2="284.00" stroke="#2a8068" stroke-width="1.5"/>
<text x="149.50" y="286.40" font-size="7.0" fill="#1a1a1a" stroke="#1a1a1a" stroke-width="0.3" textLength="23.3" lengthAdjust="spacingAndGlyphs">IDH2 R172</text>
<polyline points="40.50,282.50 40.50,393.70 169.50,393.70" fill="none" stroke="#222" stroke-width="1.25" stroke-linejoin="miter"/>
<line x1="37.40" y1="286.75" x2="40.50" y2="286.75" stroke="#222" stroke-width="1.25"/>
<text x="35.40" y="289.55" font-size="7.8" fill="#1a1a1a" stroke="#1a1a1a" stroke-width="0.15" text-anchor="end" textLength="15.0" lengthAdjust="spacingAndGlyphs">1.00</text>
<line x1="37.40" y1="312.22" x2="40.50" y2="312.22" stroke="#222" stroke-width="1.25"/>
<text x="35.40" y="315.02" font-size="7.8" fill="#1a1a1a" stroke="#1a1a1a" stroke-width="0.15" text-anchor="end" textLength="15.0" lengthAdjust="spacingAndGlyphs">0.75</text>
<line x1="37.40" y1="337.69" x2="40.50" y2="337.69" stroke="#222" stroke-width="1.25"/>
<text x="35.40" y="340.49" font-size="7.8" fill="#1a1a1a" stroke="#1a1a1a" stroke-width="0.15" text-anchor="end" textLength="15.0" lengthAdjust="spacingAndGlyphs">0.50</text>
<line x1="37.40" y1="363.16" x2="40.50" y2="363.16" stroke="#222" stroke-width="1.25"/>
<text x="35.40" y="365.96" font-size="7.8" fill="#1a1a1a" stroke="#1a1a1a" stroke-width="0.15" text-anchor="end" textLength="15.0" lengthAdjust="spacingAndGlyphs">0.25</text>
<line x1="37.40" y1="388.63" x2="40.50" y2="388.63" stroke="#222" stroke-width="1.25"/>
<text x="35.40" y="391.43" font-size="7.8" fill="#1a1a1a" stroke="#1a1a1a" stroke-width="0.15" text-anchor="end" textLength="15.0" lengthAdjust="spacingAndGlyphs">0.00</text>
<line x1="46.40" y1="393.70" x2="46.40" y2="396.80" stroke="#222" stroke-width="1.25"/>
<text x="46.40" y="405.60" font-size="7.9" fill="#1a1a1a" stroke="#1a1a1a" stroke-width="0.15" text-anchor="middle" textLength="4.3" lengthAdjust="spacingAndGlyphs">0</text>
<line x1="69.87" y1="393.70" x2="69.87" y2="396.80" stroke="#222" stroke-width="1.25"/>
<text x="70.15" y="405.60" font-size="7.9" fill="#1a1a1a" stroke="#1a1a1a" stroke-width="0.15" text-anchor="middle" textLength="8.1" lengthAdjust="spacingAndGlyphs">12</text>
<line x1="93.34" y1="393.70" x2="93.34" y2="396.80" stroke="#222" stroke-width="1.25"/>
<text x="93.90" y="405.60" font-size="7.9" fill="#1a1a1a" stroke="#1a1a1a" stroke-width="0.15" text-anchor="middle" textLength="8.1" lengthAdjust="spacingAndGlyphs">24</text>
<line x1="116.81" y1="393.70" x2="116.81" y2="396.80" stroke="#222" stroke-width="1.25"/>
<text x="117.65" y="405.60" font-size="7.9" fill="#1a1a1a" stroke="#1a1a1a" stroke-width="0.15" text-anchor="middle" textLength="8.1" lengthAdjust="spacingAndGlyphs">36</text>
<line x1="140.28" y1="393.70" x2="140.28" y2="396.80" stroke="#222" stroke-width="1.25"/>
<text x="141.40" y="405.60" font-size="7.9" fill="#1a1a1a" stroke="#1a1a1a" stroke-width="0.15" text-anchor="middle" textLength="8.1" lengthAdjust="spacingAndGlyphs">48</text>
<line x1="163.75" y1="393.70" x2="163.75" y2="396.80" stroke="#222" stroke-width="1.25"/>
<text x="165.15" y="405.60" font-size="7.9" fill="#1a1a1a" stroke="#1a1a1a" stroke-width="0.15" text-anchor="middle" textLength="8.1" lengthAdjust="spacingAndGlyphs">60</text>
<text x="106.60" y="415.80" font-size="9.2" fill="#1a1a1a" stroke="#1a1a1a" stroke-width="0.45" text-anchor="middle" textLength="13.2" lengthAdjust="spacingAndGlyphs">Time</text>
<text x="0.00" y="0.00" font-size="10.4" fill="#1a1a1a" stroke="#1a1a1a" stroke-width="0.12" text-anchor="middle" textLength="54" lengthAdjust="spacingAndGlyphs" transform="translate(15.80,337.50) rotate(-90)">Survival probability</text>
<text x="81.30" y="373.70" font-size="7.6" fill="#1a1a1a" stroke="#1a1a1a" stroke-width="0.1" textLength="42.4" lengthAdjust="spacingAndGlyphs">p = 0.00088</text>
<polyline points="46.40,286.75 48.10,294.10 50.70,301.50 52.80,304.20 53.40,306.90 58.20,306.90 58.80,310.90 62.20,313.00 67.60,313.00 68.90,316.30 74.30,317.00 75.60,320.40 78.30,323.70 87.80,325.00 89.10,331.10 95.80,331.80 97.20,335.60 100.50,335.60 101.20,338.90 132.60,338.90 132.60,345.30 171.60,345.30" fill="none" stroke="#f59a22" stroke-width="1.35" stroke-linejoin="round"/>
<polyline points="46.40,286.75 49.40,295.50 50.70,304.20 52.10,308.20 54.80,308.20 55.50,312.30 66.20,312.30 68.90,314.30 75.60,318.30 79.70,321.70 86.40,321.70 87.80,325.00 89.10,329.10 90.50,331.80 95.80,331.80 103.90,333.10 103.90,335.30 125.20,335.30 125.20,338.30 129.90,338.90 130.60,343.00 171.60,343.00" fill="none" stroke="#6a2b8c" stroke-width="1.35" stroke-linejoin="round"/>
<polyline points="46.40,286.75 49.40,295.50 51.40,300.20 55.50,300.80 59.50,302.90 64.90,306.20 68.90,309.60 74.30,315.60 78.30,319.70 85.10,323.00 90.50,327.80 95.80,331.80 101.20,331.80 105.00,332.20 109.00,334.20 113.10,336.20 118.50,338.30 125.20,340.30 130.60,343.00 142.70,343.40 142.70,344.30 171.60,344.30" fill="none" stroke="#235d9c" stroke-width="1.35" stroke-linejoin="round"/>
<polyline points="46.40,286.75 48.70,293.40 50.70,299.50 54.10,302.90 58.20,306.20 63.50,310.30 70.30,314.30 77.00,319.00 83.70,323.00 90.50,325.70 98.50,327.80 105.00,329.50 110.40,330.20 115.80,331.50 122.50,333.60 125.20,335.30 131.90,336.20 137.30,337.60 141.30,339.60 152.10,340.70 161.50,342.00 171.60,342.00" fill="none" stroke="#3cb93c" stroke-width="1.35" stroke-linejoin="round"/>
<polyline points="46.40,286.75 49.40,291.40 52.80,295.50 56.80,300.20 62.20,304.20 68.90,308.90 74.30,312.30 79.70,316.30 86.40,318.30 93.10,320.40 99.90,322.10 105.00,324.10 113.10,325.50 122.50,326.40 129.20,327.50 138.60,328.80 148.10,329.90 158.80,330.90 171.60,331.80" fill="none" stroke="#cc1236" stroke-width="1.35" stroke-linejoin="round"/>
<polyline points="46.40,286.75 57.50,286.75 57.50,337.50 78.30,337.50 78.30,388.70" fill="none" stroke="#2a8068" stroke-width="1.35" stroke-linejoin="round"/>
<text x="40.70" y="424.80" font-size="6.9" fill="#1a1a1a" stroke="#1a1a1a" stroke-width="0.15" textLength="47.4" lengthAdjust="spacingAndGlyphs">Number at risk</text>
<polyline points="41.20,429.20 41.20,495.20 171.50,495.20" fill="none" stroke="#222" stroke-width="1.25" stroke-linejoin="miter"/>
<line x1="38.10" y1="434.60" x2="41.20" y2="434.60" stroke="#222" stroke-width="1.25"/>
<text x="36.00" y="437.30" font-size="7.4" fill="#cc1236" stroke="#cc1236" stroke-width="0.25" text-anchor="end" textLength="17.7" lengthAdjust="spacingAndGlyphs">IDH WT</text>
<text x="48.60" y="436.90" font-size="6.4" fill="#1a1a1a" stroke="#1a1a1a" stroke-width="0.1" text-anchor="middle" textLength="13.8" lengthAdjust="spacingAndGlyphs">1234</text>
<text x="70.74" y="436.90" font-size="6.4" fill="#1a1a1a" stroke="#1a1a1a" stroke-width="0.1" text-anchor="middle" textLength="10.350000000000001" lengthAdjust="spacingAndGlyphs">913</text>
<text x="94.58" y="436.90" font-size="6.4" fill="#1a1a1a" stroke="#1a1a1a" stroke-width="0.1" text-anchor="middle" textLength="10.350000000000001" lengthAdjust="spacingAndGlyphs">750</text>
<text x="118.42" y="436.90" font-size="6.4" fill="#1a1a1a" stroke="#1a1a1a" stroke-width="0.1" text-anchor="middle" textLength="10.350000000000001" lengthAdjust="spacingAndGlyphs">655</text>
<text x="142.26" y="436.90" font-size="6.4" fill="#1a1a1a" stroke="#1a1a1a" stroke-width="0.1" text-anchor="middle" textLength="10.350000000000001" lengthAdjust="spacingAndGlyphs">551</text>
<text x="166.10" y="436.90" font-size="6.4" fill="#1a1a1a" stroke="#1a1a1a" stroke-width="0.1" text-anchor="middle" textLength="10.350000000000001" lengthAdjust="spacingAndGlyphs">492</text>
<line x1="38.10" y1="445.50" x2="41.20" y2="445.50" stroke="#222" stroke-width="1.25"/>
<text x="36.00" y="448.20" font-size="7.4" fill="#6a2b8c" stroke="#6a2b8c" stroke-width="0.25" text-anchor="end" textLength="26.9" lengthAdjust="spacingAndGlyphs">IDH1 R132C</text>
<text x="48.60" y="447.80" font-size="6.4" fill="#1a1a1a" stroke="#1a1a1a" stroke-width="0.1" text-anchor="middle" textLength="6.9" lengthAdjust="spacingAndGlyphs">33</text>
<text x="70.74" y="447.80" font-size="6.4" fill="#1a1a1a" stroke="#1a1a1a" stroke-width="0.1" text-anchor="middle" textLength="6.9" lengthAdjust="spacingAndGlyphs">23</text>
<text x="94.58" y="447.80" font-size="6.4" fill="#1a1a1a" stroke="#1a1a1a" stroke-width="0.1" text-anchor="middle" textLength="6.9" lengthAdjust="spacingAndGlyphs">17</text>
<text x="118.42" y="447.80" font-size="6.4" fill="#1a1a1a" stroke="#1a1a1a" stroke-width="0.1" text-anchor="middle" textLength="6.9" lengthAdjust="spacingAndGlyphs">15</text>
<text x="142.26" y="447.80" font-size="6.4" fill="#1a1a1a" stroke="#1a1a1a" stroke-width="0.1" text-anchor="middle" textLength="6.9" lengthAdjust="spacingAndGlyphs">12</text>
<text x="166.10" y="447.80" font-size="6.4" fill="#1a1a1a" stroke="#1a1a1a" stroke-width="0.1" text-anchor="middle" textLength="6.9" lengthAdjust="spacingAndGlyphs">12</text>
<line x1="38.10" y1="456.60" x2="41.20" y2="456.60" stroke="#222" stroke-width="1.25"/>
<text x="36.00" y="459.30" font-size="7.4" fill="#235d9c" stroke="#235d9c" stroke-width="0.25" text-anchor="end" textLength="26.9" lengthAdjust="spacingAndGlyphs">IDH1 R132H</text>
<text x="48.60" y="458.90" font-size="6.4" fill="#1a1a1a" stroke="#1a1a1a" stroke-width="0.1" text-anchor="middle" textLength="6.9" lengthAdjust="spacingAndGlyphs">98</text>
<text x="70.74" y="458.90" font-size="6.4" fill="#1a1a1a" stroke="#1a1a1a" stroke-width="0.1" text-anchor="middle" textLength="6.9" lengthAdjust="spacingAndGlyphs">73</text>
<text x="94.58" y="458.90" font-size="6.4" fill="#1a1a1a" stroke="#1a1a1a" stroke-width="0.1" text-anchor="middle" textLength="6.9" lengthAdjust="spacingAndGlyphs">54</text>
<text x="118.42" y="458.90" font-size="6.4" fill="#1a1a1a" stroke="#1a1a1a" stroke-width="0.1" text-anchor="middle" textLength="6.9" lengthAdjust="spacingAndGlyphs">46</text>
<text x="142.26" y="458.90" font-size="6.4" fill="#1a1a1a" stroke="#1a1a1a" stroke-width="0.1" text-anchor="middle" textLength="6.9" lengthAdjust="spacingAndGlyphs">36</text>
<text x="166.10" y="458.90" font-size="6.4" fill="#1a1a1a" stroke="#1a1a1a" stroke-width="0.1" text-anchor="middle" textLength="6.9" lengthAdjust="spacingAndGlyphs">33</text>
<line x1="38.10" y1="466.80" x2="41.20" y2="466.80" stroke="#222" stroke-width="1.25"/>
<text x="36.00" y="469.50" font-size="7.4" fill="#f59a22" stroke="#f59a22" stroke-width="0.25" text-anchor="end" textLength="23.6" lengthAdjust="spacingAndGlyphs">IDH1 other</text>
<text x="48.60" y="469.10" font-size="6.4" fill="#1a1a1a" stroke="#1a1a1a" stroke-width="0.1" text-anchor="middle" textLength="6.9" lengthAdjust="spacingAndGlyphs">31</text>
<text x="70.74" y="469.10" font-size="6.4" fill="#1a1a1a" stroke="#1a1a1a" stroke-width="0.1" text-anchor="middle" textLength="6.9" lengthAdjust="spacingAndGlyphs">21</text>
<text x="94.58" y="469.10" font-size="6.4" fill="#1a1a1a" stroke="#1a1a1a" stroke-width="0.1" text-anchor="middle" textLength="6.9" lengthAdjust="spacingAndGlyphs">14</text>
<text x="118.42" y="469.10" font-size="6.4" fill="#1a1a1a" stroke="#1a1a1a" stroke-width="0.1" text-anchor="middle" textLength="3.45" lengthAdjust="spacingAndGlyphs">9</text>
<text x="142.26" y="469.10" font-size="6.4" fill="#1a1a1a" stroke="#1a1a1a" stroke-width="0.1" text-anchor="middle" textLength="3.45" lengthAdjust="spacingAndGlyphs">7</text>
<text x="166.10" y="469.10" font-size="6.4" fill="#1a1a1a" stroke="#1a1a1a" stroke-width="0.1" text-anchor="middle" textLength="3.45" lengthAdjust="spacingAndGlyphs">6</text>
<line x1="38.10" y1="477.60" x2="41.20" y2="477.60" stroke="#222" stroke-width="1.25"/>
<text x="36.00" y="480.30" font-size="7.4" fill="#3cb93c" stroke="#3cb93c" stroke-width="0.25" text-anchor="end" textLength="23.9" lengthAdjust="spacingAndGlyphs">IDH2 R140</text>
<text x="48.60" y="479.90" font-size="6.4" fill="#1a1a1a" stroke="#1a1a1a" stroke-width="0.1" text-anchor="middle" textLength="10.350000000000001" lengthAdjust="spacingAndGlyphs">176</text>
<text x="70.74" y="479.90" font-size="6.4" fill="#1a1a1a" stroke="#1a1a1a" stroke-width="0.1" text-anchor="middle" textLength="10.350000000000001" lengthAdjust="spacingAndGlyphs">119</text>
<text x="94.58" y="479.90" font-size="6.4" fill="#1a1a1a" stroke="#1a1a1a" stroke-width="0.1" text-anchor="middle" textLength="6.9" lengthAdjust="spacingAndGlyphs">95</text>
<text x="118.42" y="479.90" font-size="6.4" fill="#1a1a1a" stroke="#1a1a1a" stroke-width="0.1" text-anchor="middle" textLength="6.9" lengthAdjust="spacingAndGlyphs">79</text>
<text x="142.26" y="479.90" font-size="6.4" fill="#1a1a1a" stroke="#1a1a1a" stroke-width="0.1" text-anchor="middle" textLength="6.9" lengthAdjust="spacingAndGlyphs">59</text>
<text x="166.10" y="479.90" font-size="6.4" fill="#1a1a1a" stroke="#1a1a1a" stroke-width="0.1" text-anchor="middle" textLength="6.9" lengthAdjust="spacingAndGlyphs">50</text>
<line x1="38.10" y1="489.50" x2="41.20" y2="489.50" stroke="#222" stroke-width="1.25"/>
<text x="36.00" y="492.20" font-size="7.4" fill="#2a8068" stroke="#2a8068" stroke-width="0.25" text-anchor="end" textLength="22.6" lengthAdjust="spacingAndGlyphs">IDH2 R172</text>
<text x="48.60" y="491.80" font-size="6.4" fill="#1a1a1a" stroke="#1a1a1a" stroke-width="0.1" text-anchor="middle" textLength="3.45" lengthAdjust="spacingAndGlyphs">2</text>
<text x="70.74" y="491.80" font-size="6.4" fill="#1a1a1a" stroke="#1a1a1a" stroke-width="0.1" text-anchor="middle" textLength="3.45" lengthAdjust="spacingAndGlyphs">1</text>
<text x="94.58" y="491.80" font-size="6.4" fill="#1a1a1a" stroke="#1a1a1a" stroke-width="0.1" text-anchor="middle" textLength="3.45" lengthAdjust="spacingAndGlyphs">0</text>
<text x="118.42" y="491.80" font-size="6.4" fill="#1a1a1a" stroke="#1a1a1a" stroke-width="0.1" text-anchor="middle" textLength="3.45" lengthAdjust="spacingAndGlyphs">0</text>
<text x="142.26" y="491.80" font-size="6.4" fill="#1a1a1a" stroke="#1a1a1a" stroke-width="0.1" text-anchor="middle" textLength="3.45" lengthAdjust="spacingAndGlyphs">0</text>
<text x="166.10" y="491.80" font-size="6.4" fill="#1a1a1a" stroke="#1a1a1a" stroke-width="0.1" text-anchor="middle" textLength="3.45" lengthAdjust="spacingAndGlyphs">0</text>
<line x1="46.90" y1="495.20" x2="46.90" y2="500.50" stroke="#222" stroke-width="1.25"/>
<text x="46.90" y="508.30" font-size="6.3" fill="#2a2a2a" stroke="#2a2a2a" stroke-width="0" text-anchor="middle" textLength="3.5" lengthAdjust="spacingAndGlyphs">0</text>
<line x1="70.74" y1="495.20" x2="70.74" y2="500.50" stroke="#222" stroke-width="1.25"/>
<text x="70.74" y="508.30" font-size="6.3" fill="#2a2a2a" stroke="#2a2a2a" stroke-width="0" text-anchor="middle" textLength="7.3" lengthAdjust="spacingAndGlyphs">12</text>
<line x1="94.58" y1="495.20" x2="94.58" y2="500.50" stroke="#222" stroke-width="1.25"/>
<text x="94.58" y="508.30" font-size="6.3" fill="#2a2a2a" stroke="#2a2a2a" stroke-width="0" text-anchor="middle" textLength="7.3" lengthAdjust="spacingAndGlyphs">24</text>
<line x1="118.42" y1="495.20" x2="118.42" y2="500.50" stroke="#222" stroke-width="1.25"/>
<text x="118.42" y="508.30" font-size="6.3" fill="#2a2a2a" stroke="#2a2a2a" stroke-width="0" text-anchor="middle" textLength="7.3" lengthAdjust="spacingAndGlyphs">36</text>
<line x1="142.26" y1="495.20" x2="142.26" y2="500.50" stroke="#222" stroke-width="1.25"/>
<text x="142.26" y="508.30" font-size="6.3" fill="#2a2a2a" stroke="#2a2a2a" stroke-width="0" text-anchor="middle" textLength="7.3" lengthAdjust="spacingAndGlyphs">48</text>
<line x1="166.10" y1="495.20" x2="166.10" y2="500.50" stroke="#222" stroke-width="1.25"/>
<text x="166.10" y="508.30" font-size="6.3" fill="#2a2a2a" stroke="#2a2a2a" stroke-width="0" text-anchor="middle" textLength="7.3" lengthAdjust="spacingAndGlyphs">60</text>
<text x="106.70" y="519.10" font-size="9.2" fill="#1a1a1a" stroke="#1a1a1a" stroke-width="0.45" text-anchor="middle" textLength="13.2" lengthAdjust="spacingAndGlyphs">Time</text>
<text x="277.20" y="262.20" font-size="9.4" fill="#1a1a1a" stroke="#1a1a1a" stroke-width="0.15" text-anchor="middle" textLength="84.5" lengthAdjust="spacingAndGlyphs">Intermediate ELN risk</text>
<line x1="227.50" y1="271.60" x2="233.70" y2="271.60" stroke="#cc1236" stroke-width="1.5"/>
<text x="235.70" y="274.00" font-size="7.0" fill="#1a1a1a" stroke="#1a1a1a" stroke-width="0.3" textLength="18" lengthAdjust="spacingAndGlyphs">IDH WT</text>
<line x1="266.40" y1="271.60" x2="272.60" y2="271.60" stroke="#235d9c" stroke-width="1.5"/>
<text x="274.60" y="274.00" font-size="7.0" fill="#1a1a1a" stroke="#1a1a1a" stroke-width="0.3" textLength="26.8" lengthAdjust="spacingAndGlyphs">IDH1 R132H</text>
<line x1="305.30" y1="271.60" x2="311.50" y2="271.60" stroke="#3cb93c" stroke-width="1.5"/>
<text x="313.50" y="274.00" font-size="7.0" fill="#1a1a1a" stroke="#1a1a1a" stroke-width="0.3" textLength="24" lengthAdjust="spacingAndGlyphs">IDH2 R140</text>
<line x1="227.50" y1="284.00" x2="233.70" y2="284.00" stroke="#6a2b8c" stroke-width="1.5"/>
<text x="235.70" y="286.40" font-size="7.0" fill="#1a1a1a" stroke="#1a1a1a" stroke-width="0.3" textLength="26.5" lengthAdjust="spacingAndGlyphs">IDH1 R132C</text>
<line x1="266.40" y1="284.00" x2="272.60" y2="284.00" stroke="#f59a22" stroke-width="1.5"/>
<text x="274.60" y="286.40" font-size="7.0" fill="#1a1a1a" stroke="#1a1a1a" stroke-width="0.3" textLength="24" lengthAdjust="spacingAndGlyphs">IDH1 other</text>
<line x1="305.30" y1="284.00" x2="311.50" y2="284.00" stroke="#2a8068" stroke-width="1.5"/>
<text x="313.50" y="286.40" font-size="7.0" fill="#1a1a1a" stroke="#1a1a1a" stroke-width="0.3" textLength="23.3" lengthAdjust="spacingAndGlyphs">IDH2 R172</text>
<polyline points="212.60,282.50 212.60,393.70 342.00,393.70" fill="none" stroke="#222" stroke-width="1.25" stroke-linejoin="miter"/>
<line x1="209.50" y1="286.75" x2="212.60" y2="286.75" stroke="#222" stroke-width="1.25"/>
<text x="207.40" y="289.55" font-size="7.8" fill="#1a1a1a" stroke="#1a1a1a" stroke-width="0.15" text-anchor="end" textLength="15.0" lengthAdjust="spacingAndGlyphs">1.00</text>
<line x1="209.50" y1="312.25" x2="212.60" y2="312.25" stroke="#222" stroke-width="1.25"/>
<text x="207.40" y="315.05" font-size="7.8" fill="#1a1a1a" stroke="#1a1a1a" stroke-width="0.15" text-anchor="end" textLength="15.0" lengthAdjust="spacingAndGlyphs">0.75</text>
<line x1="209.50" y1="337.75" x2="212.60" y2="337.75" stroke="#222" stroke-width="1.25"/>
<text x="207.40" y="340.55" font-size="7.8" fill="#1a1a1a" stroke="#1a1a1a" stroke-width="0.15" text-anchor="end" textLength="15.0" lengthAdjust="spacingAndGlyphs">0.50</text>
<line x1="209.50" y1="363.25" x2="212.60" y2="363.25" stroke="#222" stroke-width="1.25"/>
<text x="207.40" y="366.05" font-size="7.8" fill="#1a1a1a" stroke="#1a1a1a" stroke-width="0.15" text-anchor="end" textLength="15.0" lengthAdjust="spacingAndGlyphs">0.25</text>
<line x1="209.50" y1="388.75" x2="212.60" y2="388.75" stroke="#222" stroke-width="1.25"/>
<text x="207.40" y="391.55" font-size="7.8" fill="#1a1a1a" stroke="#1a1a1a" stroke-width="0.15" text-anchor="end" textLength="15.0" lengthAdjust="spacingAndGlyphs">0.00</text>
<line x1="218.40" y1="393.70" x2="218.40" y2="396.80" stroke="#222" stroke-width="1.25"/>
<text x="218.40" y="405.60" font-size="7.9" fill="#1a1a1a" stroke="#1a1a1a" stroke-width="0.15" text-anchor="middle" textLength="4.3" lengthAdjust="spacingAndGlyphs">0</text>
<line x1="241.90" y1="393.70" x2="241.90" y2="396.80" stroke="#222" stroke-width="1.25"/>
<text x="242.15" y="405.60" font-size="7.9" fill="#1a1a1a" stroke="#1a1a1a" stroke-width="0.15" text-anchor="middle" textLength="8.1" lengthAdjust="spacingAndGlyphs">12</text>
<line x1="265.40" y1="393.70" x2="265.40" y2="396.80" stroke="#222" stroke-width="1.25"/>
<text x="265.90" y="405.60" font-size="7.9" fill="#1a1a1a" stroke="#1a1a1a" stroke-width="0.15" text-anchor="middle" textLength="8.1" lengthAdjust="spacingAndGlyphs">24</text>
<line x1="288.90" y1="393.70" x2="288.90" y2="396.80" stroke="#222" stroke-width="1.25"/>
<text x="289.65" y="405.60" font-size="7.9" fill="#1a1a1a" stroke="#1a1a1a" stroke-width="0.15" text-anchor="middle" textLength="8.1" lengthAdjust="spacingAndGlyphs">36</text>
<line x1="312.40" y1="393.70" x2="312.40" y2="396.80" stroke="#222" stroke-width="1.25"/>
<text x="313.40" y="405.60" font-size="7.9" fill="#1a1a1a" stroke="#1a1a1a" stroke-width="0.15" text-anchor="middle" textLength="8.1" lengthAdjust="spacingAndGlyphs">48</text>
<line x1="335.90" y1="393.70" x2="335.90" y2="396.80" stroke="#222" stroke-width="1.25"/>
<text x="337.15" y="405.60" font-size="7.9" fill="#1a1a1a" stroke="#1a1a1a" stroke-width="0.15" text-anchor="middle" textLength="8.1" lengthAdjust="spacingAndGlyphs">60</text>
<text x="278.30" y="415.80" font-size="9.2" fill="#1a1a1a" stroke="#1a1a1a" stroke-width="0.45" text-anchor="middle" textLength="13.2" lengthAdjust="spacingAndGlyphs">Time</text>
<text x="0.00" y="0.00" font-size="10.4" fill="#1a1a1a" stroke="#1a1a1a" stroke-width="0.12" text-anchor="middle" textLength="54" lengthAdjust="spacingAndGlyphs" transform="translate(187.60,338.00) rotate(-90)">Survival probability</text>
<text x="219.40" y="373.80" font-size="7.6" fill="#1a1a1a" stroke="#1a1a1a" stroke-width="0.1" textLength="27.9" lengthAdjust="spacingAndGlyphs">p = 0.31</text>
<polyline points="218.40,286.75 220.40,286.75 221.40,292.80 223.40,299.50 225.40,302.20 226.10,306.20 231.50,306.20 232.80,310.90 237.60,310.90 238.20,320.40 240.90,320.40 241.60,322.40 242.30,329.10 243.60,334.50 244.30,339.90 247.00,339.90 247.60,344.60 250.30,344.60 251.70,350.00 253.10,354.30 255.20,361.60 344.00,361.60" fill="none" stroke="#f59a22" stroke-width="1.35" stroke-linejoin="round"/>
<polyline points="218.40,286.75 221.40,295.50 223.40,301.50 226.80,305.60 230.20,310.90 234.20,317.00 238.20,321.70 242.30,325.70 246.30,331.10 249.70,337.20 253.00,338.50 255.70,339.90 260.00,340.40 266.50,342.90 268.20,346.10 276.30,347.00 281.20,347.60 294.30,347.50 295.10,350.20 299.20,351.00 309.00,351.90 325.40,352.50 344.00,352.70" fill="none" stroke="#6a2b8c" stroke-width="1.35" stroke-linejoin="round"/>
<polyline points="218.40,286.75 220.70,292.80 222.10,299.50 224.80,305.60 226.80,310.90 228.80,313.00 230.20,320.40 232.80,324.40 235.50,327.10 236.20,331.80 239.60,336.50 243.60,336.50 244.30,340.20 252.10,340.20 253.10,343.20 266.30,343.20 268.30,345.90 276.40,345.90 278.40,351.30 292.50,351.30 294.50,351.90 344.00,351.90" fill="none" stroke="#235d9c" stroke-width="1.35" stroke-linejoin="round"/>
<polyline points="218.40,286.75 222.10,294.10 224.80,300.80 227.50,306.20 230.20,313.00 232.80,319.70 235.50,325.10 239.60,329.80 243.60,333.80 247.60,337.20 256.20,341.20 266.30,343.20 276.40,346.30 290.50,348.30 293.50,351.30 300.60,354.30 308.70,356.00 316.80,356.80 326.90,357.40 337.00,360.00 344.00,360.40" fill="none" stroke="#3cb93c" stroke-width="1.35" stroke-linejoin="round"/>
<polyline points="218.40,286.75 222.10,292.80 226.10,299.50 230.20,306.20 234.20,313.00 238.20,319.70 243.60,325.70 248.10,330.50 256.20,337.20 264.20,341.20 274.30,344.80 284.40,347.80 294.50,350.10 304.60,351.70 314.70,352.90 324.80,353.90 344.00,356.40" fill="none" stroke="#cc1236" stroke-width="1.35" stroke-linejoin="round"/>
<polyline points="218.40,286.75 223.40,290.70 227.50,293.40 231.50,296.80 234.20,299.50 236.90,304.90 239.60,308.20 242.30,310.30 246.30,311.60 250.30,313.60 254.40,315.00 259.80,317.00 262.00,320.50 263.30,324.90 265.70,329.00 268.20,332.30 271.40,336.30 280.40,336.30 282.10,339.30 286.10,339.60 287.80,341.20 291.90,342.10 293.50,343.70 309.00,344.20 309.80,346.50 327.80,346.50 328.60,349.40 343.60,349.40" fill="none" stroke="#2a8068" stroke-width="1.35" stroke-linejoin="round"/>
<text x="212.70" y="424.80" font-size="6.9" fill="#1a1a1a" stroke="#1a1a1a" stroke-width="0.15" textLength="47.4" lengthAdjust="spacingAndGlyphs">Number at risk</text>
<polyline points="213.20,429.20 213.20,497.50 343.50,497.50" fill="none" stroke="#222" stroke-width="1.25" stroke-linejoin="miter"/>
<line x1="210.10" y1="434.60" x2="213.20" y2="434.60" stroke="#222" stroke-width="1.25"/>
<text x="208.00" y="437.30" font-size="7.4" fill="#cc1236" stroke="#cc1236" stroke-width="0.25" text-anchor="end" textLength="17.7" lengthAdjust="spacingAndGlyphs">IDH WT</text>
<text x="220.60" y="436.90" font-size="6.4" fill="#1a1a1a" stroke="#1a1a1a" stroke-width="0.1" text-anchor="middle" textLength="13.8" lengthAdjust="spacingAndGlyphs">1280</text>
<text x="242.74" y="436.90" font-size="6.4" fill="#1a1a1a" stroke="#1a1a1a" stroke-width="0.1" text-anchor="middle" textLength="10.350000000000001" lengthAdjust="spacingAndGlyphs">746</text>
<text x="266.58" y="436.90" font-size="6.4" fill="#1a1a1a" stroke="#1a1a1a" stroke-width="0.1" text-anchor="middle" textLength="10.350000000000001" lengthAdjust="spacingAndGlyphs">493</text>
<text x="290.42" y="436.90" font-size="6.4" fill="#1a1a1a" stroke="#1a1a1a" stroke-width="0.1" text-anchor="middle" textLength="10.350000000000001" lengthAdjust="spacingAndGlyphs">374</text>
<text x="314.26" y="436.90" font-size="6.4" fill="#1a1a1a" stroke="#1a1a1a" stroke-width="0.1" text-anchor="middle" textLength="10.350000000000001" lengthAdjust="spacingAndGlyphs">295</text>
<text x="338.10" y="436.90" font-size="6.4" fill="#1a1a1a" stroke="#1a1a1a" stroke-width="0.1" text-anchor="middle" textLength="10.350000000000001" lengthAdjust="spacingAndGlyphs">260</text>
<line x1="210.10" y1="445.50" x2="213.20" y2="445.50" stroke="#222" stroke-width="1.25"/>
<text x="208.00" y="448.20" font-size="7.4" fill="#6a2b8c" stroke="#6a2b8c" stroke-width="0.25" text-anchor="end" textLength="26.9" lengthAdjust="spacingAndGlyphs">IDH1 R132C</text>
<text x="220.60" y="447.80" font-size="6.4" fill="#1a1a1a" stroke="#1a1a1a" stroke-width="0.1" text-anchor="middle" textLength="6.9" lengthAdjust="spacingAndGlyphs">78</text>
<text x="242.74" y="447.80" font-size="6.4" fill="#1a1a1a" stroke="#1a1a1a" stroke-width="0.1" text-anchor="middle" textLength="6.9" lengthAdjust="spacingAndGlyphs">45</text>
<text x="266.58" y="447.80" font-size="6.4" fill="#1a1a1a" stroke="#1a1a1a" stroke-width="0.1" text-anchor="middle" textLength="6.9" lengthAdjust="spacingAndGlyphs">30</text>
<text x="290.42" y="447.80" font-size="6.4" fill="#1a1a1a" stroke="#1a1a1a" stroke-width="0.1" text-anchor="middle" textLength="6.9" lengthAdjust="spacingAndGlyphs">21</text>
<text x="314.26" y="447.80" font-size="6.4" fill="#1a1a1a" stroke="#1a1a1a" stroke-width="0.1" text-anchor="middle" textLength="6.9" lengthAdjust="spacingAndGlyphs">17</text>
<text x="338.10" y="447.80" font-size="6.4" fill="#1a1a1a" stroke="#1a1a1a" stroke-width="0.1" text-anchor="middle" textLength="6.9" lengthAdjust="spacingAndGlyphs">16</text>
<line x1="210.10" y1="456.60" x2="213.20" y2="456.60" stroke="#222" stroke-width="1.25"/>
<text x="208.00" y="459.30" font-size="7.4" fill="#235d9c" stroke="#235d9c" stroke-width="0.25" text-anchor="end" textLength="26.9" lengthAdjust="spacingAndGlyphs">IDH1 R132H</text>
<text x="220.60" y="458.90" font-size="6.4" fill="#1a1a1a" stroke="#1a1a1a" stroke-width="0.1" text-anchor="middle" textLength="6.9" lengthAdjust="spacingAndGlyphs">44</text>
<text x="242.74" y="458.90" font-size="6.4" fill="#1a1a1a" stroke="#1a1a1a" stroke-width="0.1" text-anchor="middle" textLength="6.9" lengthAdjust="spacingAndGlyphs">19</text>
<text x="266.58" y="458.90" font-size="6.4" fill="#1a1a1a" stroke="#1a1a1a" stroke-width="0.1" text-anchor="middle" textLength="6.9" lengthAdjust="spacingAndGlyphs">15</text>
<text x="290.42" y="458.90" font-size="6.4" fill="#1a1a1a" stroke="#1a1a1a" stroke-width="0.1" text-anchor="middle" textLength="6.9" lengthAdjust="spacingAndGlyphs">11</text>
<text x="314.26" y="458.90" font-size="6.4" fill="#1a1a1a" stroke="#1a1a1a" stroke-width="0.1" text-anchor="middle" textLength="6.9" lengthAdjust="spacingAndGlyphs">10</text>
<text x="338.10" y="458.90" font-size="6.4" fill="#1a1a1a" stroke="#1a1a1a" stroke-width="0.1" text-anchor="middle" textLength="3.45" lengthAdjust="spacingAndGlyphs">9</text>
<line x1="210.10" y1="466.80" x2="213.20" y2="466.80" stroke="#222" stroke-width="1.25"/>
<text x="208.00" y="469.50" font-size="7.4" fill="#f59a22" stroke="#f59a22" stroke-width="0.25" text-anchor="end" textLength="23.6" lengthAdjust="spacingAndGlyphs">IDH1 other</text>
<text x="220.60" y="469.10" font-size="6.4" fill="#1a1a1a" stroke="#1a1a1a" stroke-width="0.1" text-anchor="middle" textLength="6.9" lengthAdjust="spacingAndGlyphs">21</text>
<text x="242.74" y="469.10" font-size="6.4" fill="#1a1a1a" stroke="#1a1a1a" stroke-width="0.1" text-anchor="middle" textLength="6.9" lengthAdjust="spacingAndGlyphs">13</text>
<text x="266.58" y="469.10" font-size="6.4" fill="#1a1a1a" stroke="#1a1a1a" stroke-width="0.1" text-anchor="middle" textLength="3.45" lengthAdjust="spacingAndGlyphs">4</text>
<text x="290.42" y="469.10" font-size="6.4" fill="#1a1a1a" stroke="#1a1a1a" stroke-width="0.1" text-anchor="middle" textLength="3.45" lengthAdjust="spacingAndGlyphs">3</text>
<text x="314.26" y="469.10" font-size="6.4" fill="#1a1a1a" stroke="#1a1a1a" stroke-width="0.1" text-anchor="middle" textLength="3.45" lengthAdjust="spacingAndGlyphs">2</text>
<text x="338.10" y="469.10" font-size="6.4" fill="#1a1a1a" stroke="#1a1a1a" stroke-width="0.1" text-anchor="middle" textLength="3.45" lengthAdjust="spacingAndGlyphs">2</text>
<line x1="210.10" y1="477.60" x2="213.20" y2="477.60" stroke="#222" stroke-width="1.25"/>
<text x="208.00" y="480.30" font-size="7.4" fill="#3cb93c" stroke="#3cb93c" stroke-width="0.25" text-anchor="end" textLength="23.9" lengthAdjust="spacingAndGlyphs">IDH2 R140</text>
<text x="220.60" y="479.90" font-size="6.4" fill="#1a1a1a" stroke="#1a1a1a" stroke-width="0.1" text-anchor="middle" textLength="10.350000000000001" lengthAdjust="spacingAndGlyphs">141</text>
<text x="242.74" y="479.90" font-size="6.4" fill="#1a1a1a" stroke="#1a1a1a" stroke-width="0.1" text-anchor="middle" textLength="6.9" lengthAdjust="spacingAndGlyphs">71</text>
<text x="266.58" y="479.90" font-size="6.4" fill="#1a1a1a" stroke="#1a1a1a" stroke-width="0.1" text-anchor="middle" textLength="6.9" lengthAdjust="spacingAndGlyphs">56</text>
<text x="290.42" y="479.90" font-size="6.4" fill="#1a1a1a" stroke="#1a1a1a" stroke-width="0.1" text-anchor="middle" textLength="6.9" lengthAdjust="spacingAndGlyphs">44</text>
<text x="314.26" y="479.90" font-size="6.4" fill="#1a1a1a" stroke="#1a1a1a" stroke-width="0.1" text-anchor="middle" textLength="6.9" lengthAdjust="spacingAndGlyphs">33</text>
<text x="338.10" y="479.90" font-size="6.4" fill="#1a1a1a" stroke="#1a1a1a" stroke-width="0.1" text-anchor="middle" textLength="6.9" lengthAdjust="spacingAndGlyphs">29</text>
<line x1="210.10" y1="489.50" x2="213.20" y2="489.50" stroke="#222" stroke-width="1.25"/>
<text x="208.00" y="492.20" font-size="7.4" fill="#2a8068" stroke="#2a8068" stroke-width="0.25" text-anchor="end" textLength="22.6" lengthAdjust="spacingAndGlyphs">IDH2 R172</text>
<text x="220.60" y="491.80" font-size="6.4" fill="#1a1a1a" stroke="#1a1a1a" stroke-width="0.1" text-anchor="middle" textLength="6.9" lengthAdjust="spacingAndGlyphs">63</text>
<text x="242.74" y="491.80" font-size="6.4" fill="#1a1a1a" stroke="#1a1a1a" stroke-width="0.1" text-anchor="middle" textLength="6.9" lengthAdjust="spacingAndGlyphs">42</text>
<text x="266.58" y="491.80" font-size="6.4" fill="#1a1a1a" stroke="#1a1a1a" stroke-width="0.1" text-anchor="middle" textLength="6.9" lengthAdjust="spacingAndGlyphs">30</text>
<text x="290.42" y="491.80" font-size="6.4" fill="#1a1a1a" stroke="#1a1a1a" stroke-width="0.1" text-anchor="middle" textLength="6.9" lengthAdjust="spacingAndGlyphs">19</text>
<text x="314.26" y="491.80" font-size="6.4" fill="#1a1a1a" stroke="#1a1a1a" stroke-width="0.1" text-anchor="middle" textLength="6.9" lengthAdjust="spacingAndGlyphs">16</text>
<text x="338.10" y="491.80" font-size="6.4" fill="#1a1a1a" stroke="#1a1a1a" stroke-width="0.1" text-anchor="middle" textLength="6.9" lengthAdjust="spacingAndGlyphs">14</text>
<line x1="218.90" y1="497.50" x2="218.90" y2="500.50" stroke="#222" stroke-width="1.25"/>
<text x="218.90" y="508.30" font-size="6.3" fill="#2a2a2a" stroke="#2a2a2a" stroke-width="0" text-anchor="middle" textLength="3.5" lengthAdjust="spacingAndGlyphs">0</text>
<line x1="242.74" y1="497.50" x2="242.74" y2="500.50" stroke="#222" stroke-width="1.25"/>
<text x="242.74" y="508.30" font-size="6.3" fill="#2a2a2a" stroke="#2a2a2a" stroke-width="0" text-anchor="middle" textLength="7.3" lengthAdjust="spacingAndGlyphs">12</text>
<line x1="266.58" y1="497.50" x2="266.58" y2="500.50" stroke="#222" stroke-width="1.25"/>
<text x="266.58" y="508.30" font-size="6.3" fill="#2a2a2a" stroke="#2a2a2a" stroke-width="0" text-anchor="middle" textLength="7.3" lengthAdjust="spacingAndGlyphs">24</text>
<line x1="290.42" y1="497.50" x2="290.42" y2="500.50" stroke="#222" stroke-width="1.25"/>
<text x="290.42" y="508.30" font-size="6.3" fill="#2a2a2a" stroke="#2a2a2a" stroke-width="0" text-anchor="middle" textLength="7.3" lengthAdjust="spacingAndGlyphs">36</text>
<line x1="314.26" y1="497.50" x2="314.26" y2="500.50" stroke="#222" stroke-width="1.25"/>
<text x="314.26" y="508.30" font-size="6.3" fill="#2a2a2a" stroke="#2a2a2a" stroke-width="0" text-anchor="middle" textLength="7.3" lengthAdjust="spacingAndGlyphs">48</text>
<line x1="338.10" y1="497.50" x2="338.10" y2="500.50" stroke="#222" stroke-width="1.25"/>
<text x="338.10" y="508.30" font-size="6.3" fill="#2a2a2a" stroke="#2a2a2a" stroke-width="0" text-anchor="middle" textLength="7.3" lengthAdjust="spacingAndGlyphs">60</text>
<text x="278.70" y="519.10" font-size="9.2" fill="#1a1a1a" stroke="#1a1a1a" stroke-width="0.45" text-anchor="middle" textLength="13.2" lengthAdjust="spacingAndGlyphs">Time</text>
<text x="445.20" y="262.20" font-size="9.4" fill="#1a1a1a" stroke="#1a1a1a" stroke-width="0.15" text-anchor="middle" textLength="68" lengthAdjust="spacingAndGlyphs">Adverse ELN risk</text>
<line x1="401.30" y1="271.60" x2="407.50" y2="271.60" stroke="#cc1236" stroke-width="1.5"/>
<text x="409.50" y="274.00" font-size="7.0" fill="#1a1a1a" stroke="#1a1a1a" stroke-width="0.3" textLength="18" lengthAdjust="spacingAndGlyphs">IDH WT</text>
<line x1="440.20" y1="271.60" x2="446.40" y2="271.60" stroke="#235d9c" stroke-width="1.5"/>
<text x="448.40" y="274.00" font-size="7.0" fill="#1a1a1a" stroke="#1a1a1a" stroke-width="0.3" textLength="26.8" lengthAdjust="spacingAndGlyphs">IDH1 R132H</text>
<line x1="479.10" y1="271.60" x2="485.30" y2="271.60" stroke="#3cb93c" stroke-width="1.5"/>
<text x="487.30" y="274.00" font-size="7.0" fill="#1a1a1a" stroke="#1a1a1a" stroke-width="0.3" textLength="24" lengthAdjust="spacingAndGlyphs">IDH2 R140</text>
<line x1="401.30" y1="284.00" x2="407.50" y2="284.00" stroke="#6a2b8c" stroke-width="1.5"/>
<text x="409.50" y="286.40" font-size="7.0" fill="#1a1a1a" stroke="#1a1a1a" stroke-width="0.3" textLength="26.5" lengthAdjust="spacingAndGlyphs">IDH1 R132C</text>
<line x1="440.20" y1="284.00" x2="446.40" y2="284.00" stroke="#f59a22" stroke-width="1.5"/>
<text x="448.40" y="286.40" font-size="7.0" fill="#1a1a1a" stroke="#1a1a1a" stroke-width="0.3" textLength="24" lengthAdjust="spacingAndGlyphs">IDH1 other</text>
<line x1="479.10" y1="284.00" x2="485.30" y2="284.00" stroke="#2a8068" stroke-width="1.5"/>
<text x="487.30" y="286.40" font-size="7.0" fill="#1a1a1a" stroke="#1a1a1a" stroke-width="0.3" textLength="23.3" lengthAdjust="spacingAndGlyphs">IDH2 R172</text>
<polyline points="380.80,282.50 380.80,393.70 510.50,393.70" fill="none" stroke="#222" stroke-width="1.25" stroke-linejoin="miter"/>
<line x1="377.70" y1="286.75" x2="380.80" y2="286.75" stroke="#222" stroke-width="1.25"/>
<text x="375.60" y="289.55" font-size="7.8" fill="#1a1a1a" stroke="#1a1a1a" stroke-width="0.15" text-anchor="end" textLength="15.0" lengthAdjust="spacingAndGlyphs">1.00</text>
<line x1="377.70" y1="312.25" x2="380.80" y2="312.25" stroke="#222" stroke-width="1.25"/>
<text x="375.60" y="315.05" font-size="7.8" fill="#1a1a1a" stroke="#1a1a1a" stroke-width="0.15" text-anchor="end" textLength="15.0" lengthAdjust="spacingAndGlyphs">0.75</text>
<line x1="377.70" y1="337.75" x2="380.80" y2="337.75" stroke="#222" stroke-width="1.25"/>
<text x="375.60" y="340.55" font-size="7.8" fill="#1a1a1a" stroke="#1a1a1a" stroke-width="0.15" text-anchor="end" textLength="15.0" lengthAdjust="spacingAndGlyphs">0.50</text>
<line x1="377.70" y1="363.25" x2="380.80" y2="363.25" stroke="#222" stroke-width="1.25"/>
<text x="375.60" y="366.05" font-size="7.8" fill="#1a1a1a" stroke="#1a1a1a" stroke-width="0.15" text-anchor="end" textLength="15.0" lengthAdjust="spacingAndGlyphs">0.25</text>
<line x1="377.70" y1="388.75" x2="380.80" y2="388.75" stroke="#222" stroke-width="1.25"/>
<text x="375.60" y="391.55" font-size="7.8" fill="#1a1a1a" stroke="#1a1a1a" stroke-width="0.15" text-anchor="end" textLength="15.0" lengthAdjust="spacingAndGlyphs">0.00</text>
<line x1="386.40" y1="393.70" x2="386.40" y2="396.80" stroke="#222" stroke-width="1.25"/>
<text x="386.40" y="405.60" font-size="7.9" fill="#1a1a1a" stroke="#1a1a1a" stroke-width="0.15" text-anchor="middle" textLength="4.3" lengthAdjust="spacingAndGlyphs">0</text>
<line x1="409.90" y1="393.70" x2="409.90" y2="396.80" stroke="#222" stroke-width="1.25"/>
<text x="410.15" y="405.60" font-size="7.9" fill="#1a1a1a" stroke="#1a1a1a" stroke-width="0.15" text-anchor="middle" textLength="8.1" lengthAdjust="spacingAndGlyphs">12</text>
<line x1="433.40" y1="393.70" x2="433.40" y2="396.80" stroke="#222" stroke-width="1.25"/>
<text x="433.90" y="405.60" font-size="7.9" fill="#1a1a1a" stroke="#1a1a1a" stroke-width="0.15" text-anchor="middle" textLength="8.1" lengthAdjust="spacingAndGlyphs">24</text>
<line x1="456.90" y1="393.70" x2="456.90" y2="396.80" stroke="#222" stroke-width="1.25"/>
<text x="457.65" y="405.60" font-size="7.9" fill="#1a1a1a" stroke="#1a1a1a" stroke-width="0.15" text-anchor="middle" textLength="8.1" lengthAdjust="spacingAndGlyphs">36</text>
<line x1="480.40" y1="393.70" x2="480.40" y2="396.80" stroke="#222" stroke-width="1.25"/>
<text x="481.40" y="405.60" font-size="7.9" fill="#1a1a1a" stroke="#1a1a1a" stroke-width="0.15" text-anchor="middle" textLength="8.1" lengthAdjust="spacingAndGlyphs">48</text>
<line x1="503.90" y1="393.70" x2="503.90" y2="396.80" stroke="#222" stroke-width="1.25"/>
<text x="505.15" y="405.60" font-size="7.9" fill="#1a1a1a" stroke="#1a1a1a" stroke-width="0.15" text-anchor="middle" textLength="8.1" lengthAdjust="spacingAndGlyphs">60</text>
<text x="446.50" y="415.80" font-size="9.2" fill="#1a1a1a" stroke="#1a1a1a" stroke-width="0.45" text-anchor="middle" textLength="13.2" lengthAdjust="spacingAndGlyphs">Time</text>
<text x="0.00" y="0.00" font-size="10.4" fill="#1a1a1a" stroke="#1a1a1a" stroke-width="0.12" text-anchor="middle" textLength="54" lengthAdjust="spacingAndGlyphs" transform="translate(357.60,337.50) rotate(-90)">Survival probability</text>
<text x="383.00" y="373.60" font-size="7.6" fill="#1a1a1a" stroke="#1a1a1a" stroke-width="0.1" textLength="33.0" lengthAdjust="spacingAndGlyphs">p = 0.015</text>
<polyline points="386.40,286.75 387.40,286.75 387.40,302.20 388.10,321.00 393.40,321.00 394.80,337.20 410.90,337.20 411.30,353.75 424.40,354.25 424.40,371.00 425.40,371.00 425.40,388.70" fill="none" stroke="#f59a22" stroke-width="1.35" stroke-linejoin="round"/>
<polyline points="386.40,286.75 389.40,298.20 390.70,309.00 391.40,321.00 394.10,323.70 396.10,326.40 399.50,327.80 402.20,331.80 404.90,337.20 406.90,341.20 408.90,346.60 410.00,355.00 412.30,357.00 415.70,360.40 420.40,362.40 427.10,363.10 430.50,366.40 431.10,368.50 443.80,368.50 445.40,371.50 449.50,371.80 450.00,374.60 456.90,374.60 457.70,377.70 466.20,377.70 466.90,383.10 512.40,383.10" fill="none" stroke="#6a2b8c" stroke-width="1.35" stroke-linejoin="round"/>
<polyline points="386.40,286.75 389.40,290.10 390.10,303.50 390.70,319.70 392.10,322.40 393.40,325.10 395.50,329.80 395.50,337.20 396.10,352.00 404.20,352.00 404.20,359.70 415.70,359.70 415.70,367.80 421.00,367.80 421.00,374.50 429.80,374.50 429.80,381.20 512.50,381.20" fill="none" stroke="#235d9c" stroke-width="1.35" stroke-linejoin="round"/>
<polyline points="386.40,286.75 389.40,292.80 390.70,299.50 394.10,306.20 396.80,313.00 400.80,321.00 404.20,329.10 407.60,337.20 411.60,343.90 415.60,348.00 418.30,351.30 423.10,355.00 428.50,358.40 433.80,362.40 440.00,366.90 447.70,368.20 455.40,369.20 463.10,369.70 470.80,370.30 472.30,372.30 481.50,372.80 483.80,375.40 495.40,375.70 496.90,377.70 512.40,377.70" fill="none" stroke="#3cb93c" stroke-width="1.35" stroke-linejoin="round"/>
<polyline points="386.40,286.75 388.70,294.10 390.70,300.80 392.80,306.90 395.50,314.30 398.80,322.40 402.20,330.50 405.60,337.20 408.90,343.90 413.00,348.60 416.30,352.00 421.70,355.00 425.80,357.70 431.10,360.40 437.90,363.10 444.60,365.80 450.00,367.60 460.00,369.50 472.50,370.75 485.00,372.00 500.00,372.50 512.50,373.00" fill="none" stroke="#cc1236" stroke-width="1.35" stroke-linejoin="round"/>
<polyline points="386.40,286.75 388.10,286.75 389.50,287.60 390.30,291.50 391.10,292.20 391.50,298.00 393.00,299.20 394.20,303.30 399.00,303.70 400.20,308.40 407.10,308.60 407.70,312.30 409.40,312.30 409.40,314.60 410.60,314.60 410.60,316.30 412.30,316.30 412.30,318.10 414.00,318.10 414.00,319.80 415.20,319.80 415.20,321.50 416.90,321.50 416.90,323.30 418.70,323.30 418.70,325.00 419.80,325.00 419.80,327.30 422.10,327.30 422.10,329.60 423.80,329.60 423.80,331.70 427.90,331.70 428.50,339.40 430.80,339.40 430.80,340.60 432.50,340.60 432.50,342.30 435.40,342.30 435.40,343.00 437.10,343.00 437.10,345.60 443.10,345.60 443.80,349.20 476.20,349.20 476.90,353.80 482.30,353.80 483.10,358.20 499.20,358.20 500.00,363.10 512.40,363.10" fill="none" stroke="#2a8068" stroke-width="1.35" stroke-linejoin="round"/>
<text x="380.70" y="424.80" font-size="6.9" fill="#1a1a1a" stroke="#1a1a1a" stroke-width="0.15" textLength="47.4" lengthAdjust="spacingAndGlyphs">Number at risk</text>
<polyline points="381.20,429.20 381.20,497.50 511.50,497.50" fill="none" stroke="#222" stroke-width="1.25" stroke-linejoin="miter"/>
<line x1="378.10" y1="434.60" x2="381.20" y2="434.60" stroke="#222" stroke-width="1.25"/>
<text x="376.00" y="437.30" font-size="7.4" fill="#cc1236" stroke="#cc1236" stroke-width="0.25" text-anchor="end" textLength="17.7" lengthAdjust="spacingAndGlyphs">IDH WT</text>
<text x="388.60" y="436.90" font-size="6.4" fill="#1a1a1a" stroke="#1a1a1a" stroke-width="0.1" text-anchor="middle" textLength="13.8" lengthAdjust="spacingAndGlyphs">1143</text>
<text x="410.74" y="436.90" font-size="6.4" fill="#1a1a1a" stroke="#1a1a1a" stroke-width="0.1" text-anchor="middle" textLength="10.350000000000001" lengthAdjust="spacingAndGlyphs">467</text>
<text x="434.58" y="436.90" font-size="6.4" fill="#1a1a1a" stroke="#1a1a1a" stroke-width="0.1" text-anchor="middle" textLength="10.350000000000001" lengthAdjust="spacingAndGlyphs">267</text>
<text x="458.42" y="436.90" font-size="6.4" fill="#1a1a1a" stroke="#1a1a1a" stroke-width="0.1" text-anchor="middle" textLength="10.350000000000001" lengthAdjust="spacingAndGlyphs">188</text>
<text x="482.26" y="436.90" font-size="6.4" fill="#1a1a1a" stroke="#1a1a1a" stroke-width="0.1" text-anchor="middle" textLength="10.350000000000001" lengthAdjust="spacingAndGlyphs">137</text>
<text x="506.10" y="436.90" font-size="6.4" fill="#1a1a1a" stroke="#1a1a1a" stroke-width="0.1" text-anchor="middle" textLength="10.350000000000001" lengthAdjust="spacingAndGlyphs">120</text>
<line x1="378.10" y1="445.50" x2="381.20" y2="445.50" stroke="#222" stroke-width="1.25"/>
<text x="376.00" y="448.20" font-size="7.4" fill="#6a2b8c" stroke="#6a2b8c" stroke-width="0.25" text-anchor="end" textLength="26.9" lengthAdjust="spacingAndGlyphs">IDH1 R132C</text>
<text x="388.60" y="447.80" font-size="6.4" fill="#1a1a1a" stroke="#1a1a1a" stroke-width="0.1" text-anchor="middle" textLength="6.9" lengthAdjust="spacingAndGlyphs">43</text>
<text x="410.74" y="447.80" font-size="6.4" fill="#1a1a1a" stroke="#1a1a1a" stroke-width="0.1" text-anchor="middle" textLength="6.9" lengthAdjust="spacingAndGlyphs">14</text>
<text x="434.58" y="447.80" font-size="6.4" fill="#1a1a1a" stroke="#1a1a1a" stroke-width="0.1" text-anchor="middle" textLength="3.45" lengthAdjust="spacingAndGlyphs">7</text>
<text x="458.42" y="447.80" font-size="6.4" fill="#1a1a1a" stroke="#1a1a1a" stroke-width="0.1" text-anchor="middle" textLength="3.45" lengthAdjust="spacingAndGlyphs">5</text>
<text x="482.26" y="447.80" font-size="6.4" fill="#1a1a1a" stroke="#1a1a1a" stroke-width="0.1" text-anchor="middle" textLength="3.45" lengthAdjust="spacingAndGlyphs">1</text>
<text x="506.10" y="447.80" font-size="6.4" fill="#1a1a1a" stroke="#1a1a1a" stroke-width="0.1" text-anchor="middle" textLength="3.45" lengthAdjust="spacingAndGlyphs">1</text>
<line x1="378.10" y1="456.60" x2="381.20" y2="456.60" stroke="#222" stroke-width="1.25"/>
<text x="376.00" y="459.30" font-size="7.4" fill="#235d9c" stroke="#235d9c" stroke-width="0.25" text-anchor="end" textLength="26.9" lengthAdjust="spacingAndGlyphs">IDH1 R132H</text>
<text x="388.60" y="458.90" font-size="6.4" fill="#1a1a1a" stroke="#1a1a1a" stroke-width="0.1" text-anchor="middle" textLength="6.9" lengthAdjust="spacingAndGlyphs">14</text>
<text x="410.74" y="458.90" font-size="6.4" fill="#1a1a1a" stroke="#1a1a1a" stroke-width="0.1" text-anchor="middle" textLength="3.45" lengthAdjust="spacingAndGlyphs">4</text>
<text x="434.58" y="458.90" font-size="6.4" fill="#1a1a1a" stroke="#1a1a1a" stroke-width="0.1" text-anchor="middle" textLength="3.45" lengthAdjust="spacingAndGlyphs">1</text>
<text x="458.42" y="458.90" font-size="6.4" fill="#1a1a1a" stroke="#1a1a1a" stroke-width="0.1" text-anchor="middle" textLength="3.45" lengthAdjust="spacingAndGlyphs">1</text>
<text x="482.26" y="458.90" font-size="6.4" fill="#1a1a1a" stroke="#1a1a1a" stroke-width="0.1" text-anchor="middle" textLength="3.45" lengthAdjust="spacingAndGlyphs">1</text>
<text x="506.10" y="458.90" font-size="6.4" fill="#1a1a1a" stroke="#1a1a1a" stroke-width="0.1" text-anchor="middle" textLength="3.45" lengthAdjust="spacingAndGlyphs">1</text>
<line x1="378.10" y1="466.80" x2="381.20" y2="466.80" stroke="#222" stroke-width="1.25"/>
<text x="376.00" y="469.50" font-size="7.4" fill="#f59a22" stroke="#f59a22" stroke-width="0.25" text-anchor="end" textLength="23.6" lengthAdjust="spacingAndGlyphs">IDH1 other</text>
<text x="388.60" y="469.10" font-size="6.4" fill="#1a1a1a" stroke="#1a1a1a" stroke-width="0.1" text-anchor="middle" textLength="3.45" lengthAdjust="spacingAndGlyphs">6</text>
<text x="410.74" y="469.10" font-size="6.4" fill="#1a1a1a" stroke="#1a1a1a" stroke-width="0.1" text-anchor="middle" textLength="3.45" lengthAdjust="spacingAndGlyphs">3</text>
<text x="434.58" y="469.10" font-size="6.4" fill="#1a1a1a" stroke="#1a1a1a" stroke-width="0.1" text-anchor="middle" textLength="3.45" lengthAdjust="spacingAndGlyphs">0</text>
<text x="458.42" y="469.10" font-size="6.4" fill="#1a1a1a" stroke="#1a1a1a" stroke-width="0.1" text-anchor="middle" textLength="3.45" lengthAdjust="spacingAndGlyphs">0</text>
<text x="482.26" y="469.10" font-size="6.4" fill="#1a1a1a" stroke="#1a1a1a" stroke-width="0.1" text-anchor="middle" textLength="3.45" lengthAdjust="spacingAndGlyphs">0</text>
<text x="506.10" y="469.10" font-size="6.4" fill="#1a1a1a" stroke="#1a1a1a" stroke-width="0.1" text-anchor="middle" textLength="3.45" lengthAdjust="spacingAndGlyphs">0</text>
<line x1="378.10" y1="477.60" x2="381.20" y2="477.60" stroke="#222" stroke-width="1.25"/>
<text x="376.00" y="480.30" font-size="7.4" fill="#3cb93c" stroke="#3cb93c" stroke-width="0.25" text-anchor="end" textLength="23.9" lengthAdjust="spacingAndGlyphs">IDH2 R140</text>
<text x="388.60" y="479.90" font-size="6.4" fill="#1a1a1a" stroke="#1a1a1a" stroke-width="0.1" text-anchor="middle" textLength="6.9" lengthAdjust="spacingAndGlyphs">90</text>
<text x="410.74" y="479.90" font-size="6.4" fill="#1a1a1a" stroke="#1a1a1a" stroke-width="0.1" text-anchor="middle" textLength="6.9" lengthAdjust="spacingAndGlyphs">37</text>
<text x="434.58" y="479.90" font-size="6.4" fill="#1a1a1a" stroke="#1a1a1a" stroke-width="0.1" text-anchor="middle" textLength="6.9" lengthAdjust="spacingAndGlyphs">20</text>
<text x="458.42" y="479.90" font-size="6.4" fill="#1a1a1a" stroke="#1a1a1a" stroke-width="0.1" text-anchor="middle" textLength="6.9" lengthAdjust="spacingAndGlyphs">14</text>
<text x="482.26" y="479.90" font-size="6.4" fill="#1a1a1a" stroke="#1a1a1a" stroke-width="0.1" text-anchor="middle" textLength="6.9" lengthAdjust="spacingAndGlyphs">10</text>
<text x="506.10" y="479.90" font-size="6.4" fill="#1a1a1a" stroke="#1a1a1a" stroke-width="0.1" text-anchor="middle" textLength="3.45" lengthAdjust="spacingAndGlyphs">6</text>
<line x1="378.10" y1="489.50" x2="381.20" y2="489.50" stroke="#222" stroke-width="1.25"/>
<text x="376.00" y="492.20" font-size="7.4" fill="#2a8068" stroke="#2a8068" stroke-width="0.25" text-anchor="end" textLength="22.6" lengthAdjust="spacingAndGlyphs">IDH2 R172</text>
<text x="388.60" y="491.80" font-size="6.4" fill="#1a1a1a" stroke="#1a1a1a" stroke-width="0.1" text-anchor="middle" textLength="6.9" lengthAdjust="spacingAndGlyphs">42</text>
<text x="410.74" y="491.80" font-size="6.4" fill="#1a1a1a" stroke="#1a1a1a" stroke-width="0.1" text-anchor="middle" textLength="6.9" lengthAdjust="spacingAndGlyphs">28</text>
<text x="434.58" y="491.80" font-size="6.4" fill="#1a1a1a" stroke="#1a1a1a" stroke-width="0.1" text-anchor="middle" textLength="6.9" lengthAdjust="spacingAndGlyphs">17</text>
<text x="458.42" y="491.80" font-size="6.4" fill="#1a1a1a" stroke="#1a1a1a" stroke-width="0.1" text-anchor="middle" textLength="6.9" lengthAdjust="spacingAndGlyphs">10</text>
<text x="482.26" y="491.80" font-size="6.4" fill="#1a1a1a" stroke="#1a1a1a" stroke-width="0.1" text-anchor="middle" textLength="3.45" lengthAdjust="spacingAndGlyphs">8</text>
<text x="506.10" y="491.80" font-size="6.4" fill="#1a1a1a" stroke="#1a1a1a" stroke-width="0.1" text-anchor="middle" textLength="3.45" lengthAdjust="spacingAndGlyphs">5</text>
<line x1="386.90" y1="497.50" x2="386.90" y2="500.50" stroke="#222" stroke-width="1.25"/>
<text x="386.90" y="508.30" font-size="6.3" fill="#2a2a2a" stroke="#2a2a2a" stroke-width="0" text-anchor="middle" textLength="3.5" lengthAdjust="spacingAndGlyphs">0</text>
<line x1="410.74" y1="497.50" x2="410.74" y2="500.50" stroke="#222" stroke-width="1.25"/>
<text x="410.74" y="508.30" font-size="6.3" fill="#2a2a2a" stroke="#2a2a2a" stroke-width="0" text-anchor="middle" textLength="7.3" lengthAdjust="spacingAndGlyphs">12</text>
<line x1="434.58" y1="497.50" x2="434.58" y2="500.50" stroke="#222" stroke-width="1.25"/>
<text x="434.58" y="508.30" font-size="6.3" fill="#2a2a2a" stroke="#2a2a2a" stroke-width="0" text-anchor="middle" textLength="7.3" lengthAdjust="spacingAndGlyphs">24</text>
<line x1="458.42" y1="497.50" x2="458.42" y2="500.50" stroke="#222" stroke-width="1.25"/>
<text x="458.42" y="508.30" font-size="6.3" fill="#2a2a2a" stroke="#2a2a2a" stroke-width="0" text-anchor="middle" textLength="7.3" lengthAdjust="spacingAndGlyphs">36</text>
<line x1="482.26" y1="497.50" x2="482.26" y2="500.50" stroke="#222" stroke-width="1.25"/>
<text x="482.26" y="508.30" font-size="6.3" fill="#2a2a2a" stroke="#2a2a2a" stroke-width="0" text-anchor="middle" textLength="7.3" lengthAdjust="spacingAndGlyphs">48</text>
<line x1="506.10" y1="497.50" x2="506.10" y2="500.50" stroke="#222" stroke-width="1.25"/>
<text x="506.10" y="508.30" font-size="6.3" fill="#2a2a2a" stroke="#2a2a2a" stroke-width="0" text-anchor="middle" textLength="7.3" lengthAdjust="spacingAndGlyphs">60</text>
<text x="446.70" y="519.10" font-size="9.2" fill="#1a1a1a" stroke="#1a1a1a" stroke-width="0.45" text-anchor="middle" textLength="13.2" lengthAdjust="spacingAndGlyphs">Time</text>
<rect x="0" y="0" width="520" height="1.1" fill="#000"/><rect x="0" y="0" width="1.15" height="527" fill="#000"/><rect x="518.8" y="0" width="1.2" height="527" fill="#000"/><rect x="0" y="525.6" width="520" height="1.4" fill="#000"/>
</svg>
</body></html>
